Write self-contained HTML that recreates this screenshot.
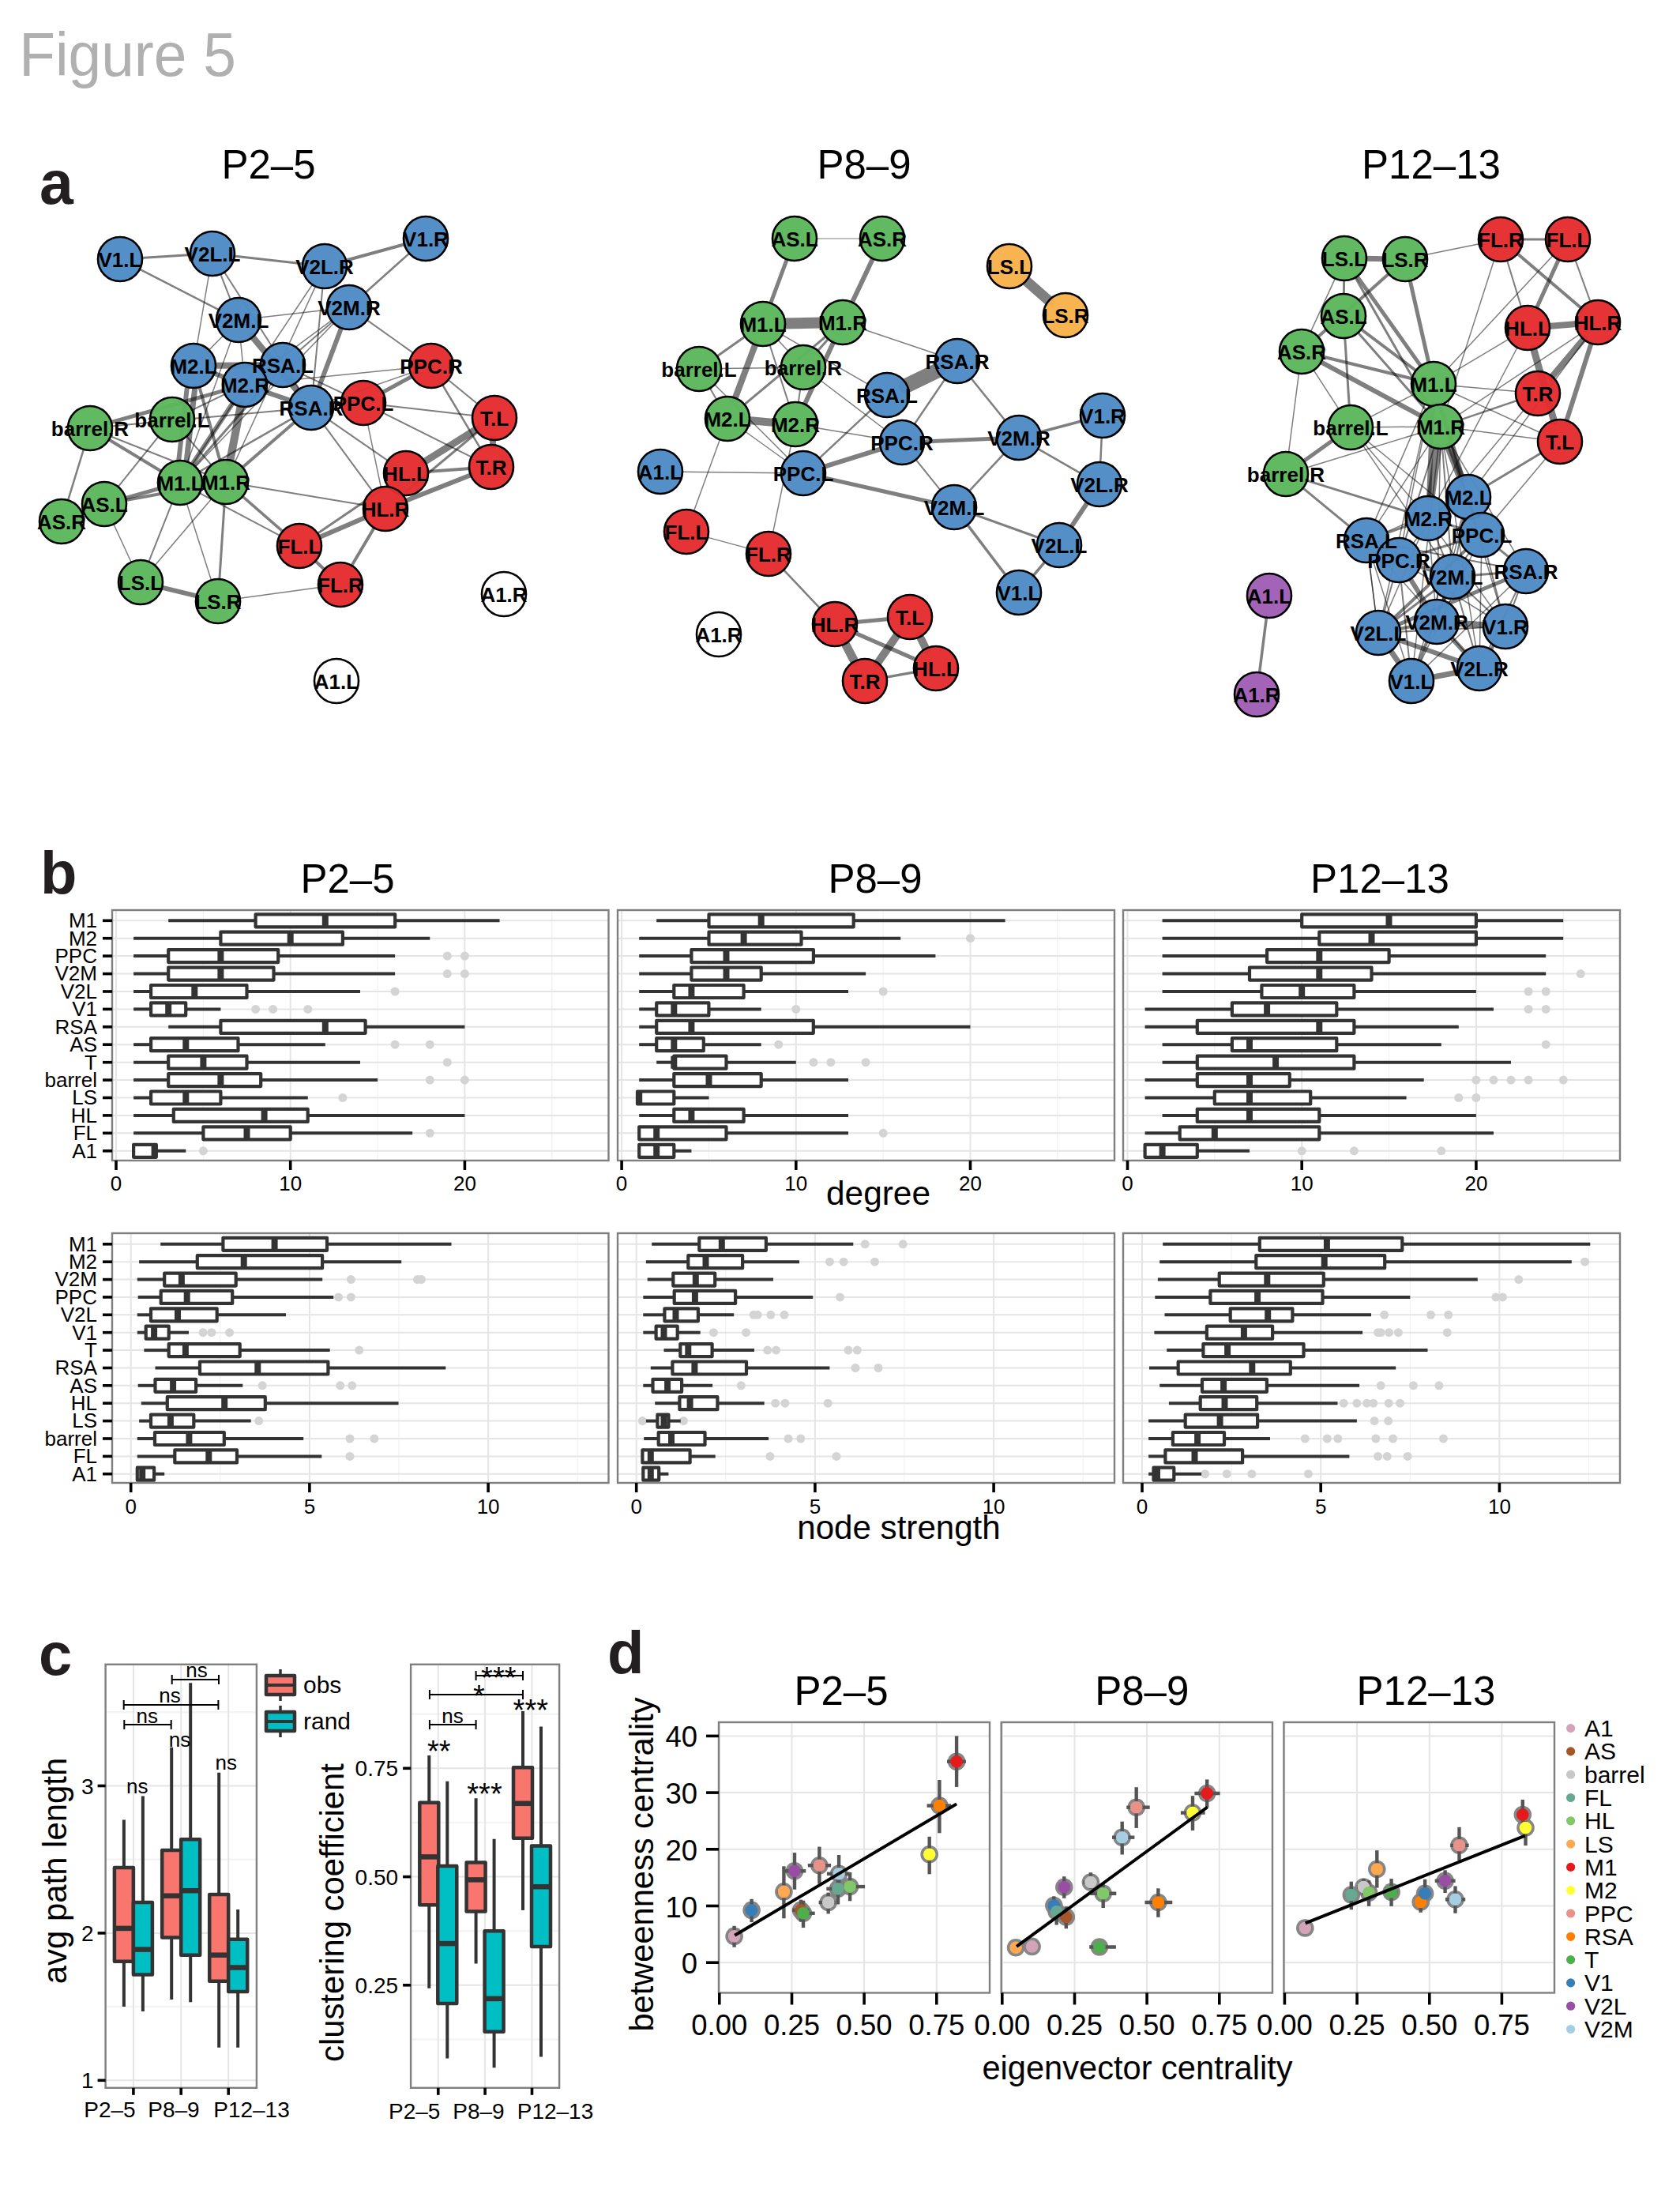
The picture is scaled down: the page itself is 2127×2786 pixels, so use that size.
<!DOCTYPE html>
<html><head><meta charset="utf-8"><style>
html,body{margin:0;padding:0;background:#fff;}
svg{display:block;font-family:"Liberation Sans",sans-serif;}
</style></head><body>
<svg width="2127" height="2786" viewBox="0 0 2127 2786">
<rect width="2127" height="2786" fill="#fff"/>
<text transform="translate(24.2 95.8) scale(0.966 1)" x="0" y="0" font-size="77.5" fill="#B0B0B0">Figure 5</text>
<text x="50" y="257.5" font-weight="bold" font-size="77" fill="#231F20">a</text>
<text x="340" y="226" text-anchor="middle" font-size="51" fill="#000">P2–5</text>
<text x="1094" y="226" text-anchor="middle" font-size="51" fill="#000">P8–9</text>
<text x="1812" y="226" text-anchor="middle" font-size="51" fill="#000">P12–13</text>
<line x1="178.5" y1="326.4" x2="242.5" y2="322.6" stroke="#000" stroke-opacity="0.5" stroke-width="3" stroke-linecap="round"/>
<line x1="175.6" y1="340.1" x2="278.4" y2="392.9" stroke="#000" stroke-opacity="0.5" stroke-width="2.5" stroke-linecap="round"/>
<line x1="295.3" y1="324.0" x2="384.7" y2="334.0" stroke="#000" stroke-opacity="0.5" stroke-width="3" stroke-linecap="round"/>
<line x1="436.6" y1="330.0" x2="513.4" y2="309.0" stroke="#000" stroke-opacity="0.5" stroke-width="4" stroke-linecap="round"/>
<line x1="519.3" y1="319.7" x2="461.7" y2="371.3" stroke="#000" stroke-opacity="0.5" stroke-width="2.5" stroke-linecap="round"/>
<line x1="264.6" y1="347.1" x2="249.4" y2="436.9" stroke="#000" stroke-opacity="0.5" stroke-width="1.5" stroke-linecap="round"/>
<line x1="278.7" y1="345.7" x2="292.3" y2="380.3" stroke="#000" stroke-opacity="0.5" stroke-width="2" stroke-linecap="round"/>
<line x1="283.3" y1="343.3" x2="379.7" y2="493.7" stroke="#000" stroke-opacity="0.5" stroke-width="2" stroke-linecap="round"/>
<line x1="328.3" y1="402.0" x2="415.7" y2="392.0" stroke="#000" stroke-opacity="0.5" stroke-width="1.5" stroke-linecap="round"/>
<line x1="463.6" y1="404.4" x2="524.4" y2="447.6" stroke="#000" stroke-opacity="0.5" stroke-width="2" stroke-linecap="round"/>
<line x1="432.6" y1="413.8" x2="403.4" y2="491.2" stroke="#000" stroke-opacity="0.5" stroke-width="6" stroke-linecap="round"/>
<line x1="422.0" y1="406.4" x2="378.0" y2="444.6" stroke="#000" stroke-opacity="0.5" stroke-width="2" stroke-linecap="round"/>
<line x1="420.7" y1="404.8" x2="331.3" y2="471.2" stroke="#000" stroke-opacity="0.5" stroke-width="1.5" stroke-linecap="round"/>
<line x1="283.4" y1="423.9" x2="263.6" y2="444.1" stroke="#000" stroke-opacity="0.5" stroke-width="1.5" stroke-linecap="round"/>
<line x1="318.9" y1="425.4" x2="377.1" y2="495.6" stroke="#000" stroke-opacity="0.5" stroke-width="8" stroke-linecap="round"/>
<line x1="304.6" y1="431.4" x2="307.4" y2="460.6" stroke="#000" stroke-opacity="0.5" stroke-width="1.5" stroke-linecap="round"/>
<line x1="293.0" y1="429.9" x2="237.0" y2="586.1" stroke="#000" stroke-opacity="0.5" stroke-width="1.5" stroke-linecap="round"/>
<line x1="396.3" y1="359.0" x2="242.7" y2="589.0" stroke="#000" stroke-opacity="0.5" stroke-width="1.5" stroke-linecap="round"/>
<line x1="400.0" y1="361.1" x2="297.0" y2="585.9" stroke="#000" stroke-opacity="0.5" stroke-width="1.5" stroke-linecap="round"/>
<line x1="408.5" y1="363.4" x2="396.5" y2="489.6" stroke="#000" stroke-opacity="0.5" stroke-width="2" stroke-linecap="round"/>
<line x1="271.5" y1="462.8" x2="331.5" y2="462.2" stroke="#000" stroke-opacity="0.5" stroke-width="8" stroke-linecap="round"/>
<line x1="269.9" y1="472.2" x2="285.1" y2="477.8" stroke="#000" stroke-opacity="0.5" stroke-width="6" stroke-linecap="round"/>
<line x1="246.9" y1="489.9" x2="236.0" y2="585.2" stroke="#000" stroke-opacity="0.5" stroke-width="7" stroke-linecap="round"/>
<line x1="237.0" y1="488.8" x2="226.1" y2="584.1" stroke="#000" stroke-opacity="0.5" stroke-width="6" stroke-linecap="round"/>
<line x1="295.4" y1="509.1" x2="242.6" y2="588.9" stroke="#000" stroke-opacity="0.5" stroke-width="6" stroke-linecap="round"/>
<line x1="304.9" y1="513.0" x2="291.1" y2="584.0" stroke="#000" stroke-opacity="0.5" stroke-width="10" stroke-linecap="round"/>
<line x1="335.0" y1="495.6" x2="369.0" y2="507.4" stroke="#000" stroke-opacity="0.5" stroke-width="6" stroke-linecap="round"/>
<line x1="252.1" y1="488.5" x2="278.9" y2="584.5" stroke="#000" stroke-opacity="0.5" stroke-width="4" stroke-linecap="round"/>
<line x1="382.0" y1="473.3" x2="436.0" y2="498.7" stroke="#000" stroke-opacity="0.5" stroke-width="2" stroke-linecap="round"/>
<line x1="336.4" y1="484.3" x2="519.6" y2="465.7" stroke="#000" stroke-opacity="0.5" stroke-width="1.5" stroke-linecap="round"/>
<line x1="419.0" y1="507.3" x2="521.0" y2="471.7" stroke="#000" stroke-opacity="0.5" stroke-width="1.5" stroke-linecap="round"/>
<line x1="483.3" y1="497.3" x2="522.7" y2="475.7" stroke="#000" stroke-opacity="0.5" stroke-width="5" stroke-linecap="round"/>
<line x1="566.4" y1="479.9" x2="605.6" y2="512.1" stroke="#000" stroke-opacity="0.5" stroke-width="2" stroke-linecap="round"/>
<line x1="559.5" y1="485.8" x2="608.5" y2="568.2" stroke="#000" stroke-opacity="0.5" stroke-width="2.5" stroke-linecap="round"/>
<line x1="486.3" y1="513.0" x2="599.7" y2="526.0" stroke="#000" stroke-opacity="0.5" stroke-width="2" stroke-linecap="round"/>
<line x1="483.7" y1="521.9" x2="598.3" y2="579.1" stroke="#000" stroke-opacity="0.5" stroke-width="2" stroke-linecap="round"/>
<line x1="465.4" y1="535.9" x2="482.6" y2="618.1" stroke="#000" stroke-opacity="0.5" stroke-width="1.5" stroke-linecap="round"/>
<line x1="603.5" y1="543.0" x2="536.5" y2="585.0" stroke="#000" stroke-opacity="0.5" stroke-width="9" stroke-linecap="round"/>
<line x1="624.3" y1="555.4" x2="623.7" y2="564.6" stroke="#000" stroke-opacity="0.5" stroke-width="8" stroke-linecap="round"/>
<line x1="605.6" y1="546.0" x2="508.4" y2="627.0" stroke="#000" stroke-opacity="0.5" stroke-width="3" stroke-linecap="round"/>
<line x1="595.6" y1="593.0" x2="540.4" y2="597.0" stroke="#000" stroke-opacity="0.5" stroke-width="4" stroke-linecap="round"/>
<line x1="597.4" y1="600.7" x2="512.6" y2="634.3" stroke="#000" stroke-opacity="0.5" stroke-width="6" stroke-linecap="round"/>
<line x1="500.7" y1="621.9" x2="501.3" y2="621.1" stroke="#000" stroke-opacity="0.5" stroke-width="3" stroke-linecap="round"/>
<line x1="463.7" y1="654.5" x2="403.3" y2="680.5" stroke="#000" stroke-opacity="0.5" stroke-width="6" stroke-linecap="round"/>
<line x1="492.1" y1="613.9" x2="400.9" y2="676.1" stroke="#000" stroke-opacity="0.5" stroke-width="3" stroke-linecap="round"/>
<line x1="474.5" y1="666.8" x2="444.5" y2="717.2" stroke="#000" stroke-opacity="0.5" stroke-width="4" stroke-linecap="round"/>
<line x1="398.3" y1="709.2" x2="411.7" y2="721.8" stroke="#000" stroke-opacity="0.5" stroke-width="4" stroke-linecap="round"/>
<line x1="306.0" y1="627.4" x2="359.0" y2="673.6" stroke="#000" stroke-opacity="0.5" stroke-width="3.5" stroke-linecap="round"/>
<line x1="251.4" y1="623.4" x2="355.6" y2="678.6" stroke="#000" stroke-opacity="0.5" stroke-width="2" stroke-linecap="round"/>
<line x1="312.1" y1="614.4" x2="461.9" y2="639.6" stroke="#000" stroke-opacity="0.5" stroke-width="2" stroke-linecap="round"/>
<line x1="415.8" y1="531.1" x2="492.2" y2="583.9" stroke="#000" stroke-opacity="0.5" stroke-width="2" stroke-linecap="round"/>
<line x1="409.7" y1="537.4" x2="472.3" y2="622.6" stroke="#000" stroke-opacity="0.5" stroke-width="2" stroke-linecap="round"/>
<line x1="203.7" y1="743.3" x2="250.3" y2="754.7" stroke="#000" stroke-opacity="0.5" stroke-width="6" stroke-linecap="round"/>
<line x1="302.3" y1="757.4" x2="404.7" y2="743.6" stroke="#000" stroke-opacity="0.5" stroke-width="1.5" stroke-linecap="round"/>
<line x1="277.8" y1="734.6" x2="284.2" y2="636.4" stroke="#000" stroke-opacity="0.5" stroke-width="3" stroke-linecap="round"/>
<line x1="267.9" y1="735.8" x2="236.1" y2="636.2" stroke="#000" stroke-opacity="0.5" stroke-width="1.5" stroke-linecap="round"/>
<line x1="187.8" y1="712.4" x2="218.2" y2="635.6" stroke="#000" stroke-opacity="0.5" stroke-width="2" stroke-linecap="round"/>
<line x1="195.2" y1="716.8" x2="268.8" y2="630.2" stroke="#000" stroke-opacity="0.5" stroke-width="1.5" stroke-linecap="round"/>
<line x1="166.8" y1="713.0" x2="143.2" y2="662.0" stroke="#000" stroke-opacity="0.5" stroke-width="1.5" stroke-linecap="round"/>
<line x1="157.5" y1="630.8" x2="202.5" y2="618.2" stroke="#000" stroke-opacity="0.5" stroke-width="5" stroke-linecap="round"/>
<line x1="158.1" y1="633.3" x2="259.9" y2="614.7" stroke="#000" stroke-opacity="0.5" stroke-width="4" stroke-linecap="round"/>
<line x1="85.7" y1="634.7" x2="106.3" y2="567.3" stroke="#000" stroke-opacity="0.5" stroke-width="2.5" stroke-linecap="round"/>
<line x1="148.6" y1="617.3" x2="201.4" y2="551.7" stroke="#000" stroke-opacity="0.5" stroke-width="2" stroke-linecap="round"/>
<line x1="136.7" y1="555.7" x2="205.3" y2="597.3" stroke="#000" stroke-opacity="0.5" stroke-width="4" stroke-linecap="round"/>
<line x1="138.6" y1="551.7" x2="261.4" y2="600.3" stroke="#000" stroke-opacity="0.5" stroke-width="2" stroke-linecap="round"/>
<line x1="140.4" y1="539.5" x2="367.6" y2="518.5" stroke="#000" stroke-opacity="0.5" stroke-width="2" stroke-linecap="round"/>
<line x1="139.5" y1="534.8" x2="284.5" y2="494.2" stroke="#000" stroke-opacity="0.5" stroke-width="5" stroke-linecap="round"/>
<line x1="241.9" y1="519.6" x2="286.1" y2="498.4" stroke="#000" stroke-opacity="0.5" stroke-width="2" stroke-linecap="round"/>
<line x1="235.3" y1="551.1" x2="268.7" y2="589.9" stroke="#000" stroke-opacity="0.5" stroke-width="2" stroke-linecap="round"/>
<line x1="251.0" y1="597.8" x2="371.0" y2="529.2" stroke="#000" stroke-opacity="0.5" stroke-width="2.5" stroke-linecap="round"/>
<line x1="306.0" y1="592.6" x2="374.0" y2="533.4" stroke="#000" stroke-opacity="0.5" stroke-width="4" stroke-linecap="round"/>
<line x1="245.4" y1="591.0" x2="340.6" y2="482.0" stroke="#000" stroke-opacity="0.5" stroke-width="3" stroke-linecap="round"/>
<line x1="246.4" y1="591.9" x2="423.6" y2="408.1" stroke="#000" stroke-opacity="0.5" stroke-width="1.5" stroke-linecap="round"/>
<line x1="107.5" y1="648.0" x2="102.5" y2="650.0" stroke="#000" stroke-opacity="0.5" stroke-width="2" stroke-linecap="round"/>
<circle cx="152" cy="328" r="28" fill="#4F8BC5" fill-opacity="0.97" stroke="#000" stroke-width="2.6"/>
<circle cx="269" cy="321" r="28" fill="#4F8BC5" fill-opacity="0.97" stroke="#000" stroke-width="2.6"/>
<circle cx="411" cy="337" r="28" fill="#4F8BC5" fill-opacity="0.97" stroke="#000" stroke-width="2.6"/>
<circle cx="539" cy="302" r="28" fill="#4F8BC5" fill-opacity="0.97" stroke="#000" stroke-width="2.6"/>
<circle cx="302" cy="405" r="28" fill="#4F8BC5" fill-opacity="0.97" stroke="#000" stroke-width="2.6"/>
<circle cx="442" cy="389" r="28" fill="#4F8BC5" fill-opacity="0.97" stroke="#000" stroke-width="2.6"/>
<circle cx="245" cy="463" r="28" fill="#4F8BC5" fill-opacity="0.97" stroke="#000" stroke-width="2.6"/>
<circle cx="358" cy="462" r="28" fill="#4F8BC5" fill-opacity="0.97" stroke="#000" stroke-width="2.6"/>
<circle cx="310" cy="487" r="28" fill="#4F8BC5" fill-opacity="0.97" stroke="#000" stroke-width="2.6"/>
<circle cx="394" cy="516" r="28" fill="#4F8BC5" fill-opacity="0.97" stroke="#000" stroke-width="2.6"/>
<circle cx="460" cy="510" r="28" fill="#E52D30" fill-opacity="0.97" stroke="#000" stroke-width="2.6"/>
<circle cx="546" cy="463" r="28" fill="#E52D30" fill-opacity="0.97" stroke="#000" stroke-width="2.6"/>
<circle cx="626" cy="529" r="28" fill="#E52D30" fill-opacity="0.97" stroke="#000" stroke-width="2.6"/>
<circle cx="622" cy="591" r="28" fill="#E52D30" fill-opacity="0.97" stroke="#000" stroke-width="2.6"/>
<circle cx="514" cy="599" r="28" fill="#E52D30" fill-opacity="0.97" stroke="#000" stroke-width="2.6"/>
<circle cx="488" cy="644" r="28" fill="#E52D30" fill-opacity="0.97" stroke="#000" stroke-width="2.6"/>
<circle cx="379" cy="691" r="28" fill="#E52D30" fill-opacity="0.97" stroke="#000" stroke-width="2.6"/>
<circle cx="431" cy="740" r="28" fill="#E52D30" fill-opacity="0.97" stroke="#000" stroke-width="2.6"/>
<circle cx="114" cy="542" r="28" fill="#5CB85C" fill-opacity="0.97" stroke="#000" stroke-width="2.6"/>
<circle cx="218" cy="531" r="28" fill="#5CB85C" fill-opacity="0.97" stroke="#000" stroke-width="2.6"/>
<circle cx="228" cy="611" r="28" fill="#5CB85C" fill-opacity="0.97" stroke="#000" stroke-width="2.6"/>
<circle cx="286" cy="610" r="28" fill="#5CB85C" fill-opacity="0.97" stroke="#000" stroke-width="2.6"/>
<circle cx="132" cy="638" r="28" fill="#5CB85C" fill-opacity="0.97" stroke="#000" stroke-width="2.6"/>
<circle cx="78" cy="660" r="28" fill="#5CB85C" fill-opacity="0.97" stroke="#000" stroke-width="2.6"/>
<circle cx="178" cy="737" r="28" fill="#5CB85C" fill-opacity="0.97" stroke="#000" stroke-width="2.6"/>
<circle cx="276" cy="761" r="28" fill="#5CB85C" fill-opacity="0.97" stroke="#000" stroke-width="2.6"/>
<circle cx="638" cy="752" r="28" fill="#FFFFFF" fill-opacity="0.97" stroke="#000" stroke-width="2.6"/>
<circle cx="426" cy="862" r="28" fill="#FFFFFF" fill-opacity="0.97" stroke="#000" stroke-width="2.6"/>
<text x="152" y="337.5" text-anchor="middle" font-weight="bold" font-size="26" fill="#000">V1.L</text>
<text x="269" y="330.5" text-anchor="middle" font-weight="bold" font-size="26" fill="#000">V2L.L</text>
<text x="411" y="346.5" text-anchor="middle" font-weight="bold" font-size="26" fill="#000">V2L.R</text>
<text x="539" y="311.5" text-anchor="middle" font-weight="bold" font-size="26" fill="#000">V1.R</text>
<text x="302" y="414.5" text-anchor="middle" font-weight="bold" font-size="26" fill="#000">V2M.L</text>
<text x="442" y="398.5" text-anchor="middle" font-weight="bold" font-size="26" fill="#000">V2M.R</text>
<text x="245" y="472.5" text-anchor="middle" font-weight="bold" font-size="26" fill="#000">M2.L</text>
<text x="358" y="471.5" text-anchor="middle" font-weight="bold" font-size="26" fill="#000">RSA.L</text>
<text x="310" y="496.5" text-anchor="middle" font-weight="bold" font-size="26" fill="#000">M2.R</text>
<text x="394" y="525.5" text-anchor="middle" font-weight="bold" font-size="26" fill="#000">RSA.R</text>
<text x="460" y="519.5" text-anchor="middle" font-weight="bold" font-size="26" fill="#000">PPC.L</text>
<text x="546" y="472.5" text-anchor="middle" font-weight="bold" font-size="26" fill="#000">PPC.R</text>
<text x="626" y="538.5" text-anchor="middle" font-weight="bold" font-size="26" fill="#000">T.L</text>
<text x="622" y="600.5" text-anchor="middle" font-weight="bold" font-size="26" fill="#000">T.R</text>
<text x="514" y="608.5" text-anchor="middle" font-weight="bold" font-size="26" fill="#000">HL.L</text>
<text x="488" y="653.5" text-anchor="middle" font-weight="bold" font-size="26" fill="#000">HL.R</text>
<text x="379" y="700.5" text-anchor="middle" font-weight="bold" font-size="26" fill="#000">FL.L</text>
<text x="431" y="749.5" text-anchor="middle" font-weight="bold" font-size="26" fill="#000">FL.R</text>
<text x="114" y="551.5" text-anchor="middle" font-weight="bold" font-size="26" fill="#000">barrel.R</text>
<text x="218" y="540.5" text-anchor="middle" font-weight="bold" font-size="26" fill="#000">barrel.L</text>
<text x="228" y="620.5" text-anchor="middle" font-weight="bold" font-size="26" fill="#000">M1.L</text>
<text x="286" y="619.5" text-anchor="middle" font-weight="bold" font-size="26" fill="#000">M1.R</text>
<text x="132" y="647.5" text-anchor="middle" font-weight="bold" font-size="26" fill="#000">AS.L</text>
<text x="78" y="669.5" text-anchor="middle" font-weight="bold" font-size="26" fill="#000">AS.R</text>
<text x="178" y="746.5" text-anchor="middle" font-weight="bold" font-size="26" fill="#000">LS.L</text>
<text x="276" y="770.5" text-anchor="middle" font-weight="bold" font-size="26" fill="#000">LS.R</text>
<text x="638" y="761.5" text-anchor="middle" font-weight="bold" font-size="26" fill="#000">A1.R</text>
<text x="426" y="871.5" text-anchor="middle" font-weight="bold" font-size="26" fill="#000">A1.L</text>
<line x1="1032.5" y1="302.0" x2="1090.5" y2="302.0" stroke="#000" stroke-opacity="0.5" stroke-width="1.2" stroke-linecap="round"/>
<line x1="996.8" y1="326.9" x2="975.2" y2="385.1" stroke="#000" stroke-opacity="0.5" stroke-width="5" stroke-linecap="round"/>
<line x1="1105.7" y1="326.0" x2="1078.3" y2="384.0" stroke="#000" stroke-opacity="0.5" stroke-width="6" stroke-linecap="round"/>
<line x1="1298.0" y1="354.4" x2="1329.0" y2="381.6" stroke="#000" stroke-opacity="0.5" stroke-width="13" stroke-linecap="round"/>
<line x1="992.5" y1="409.5" x2="1040.5" y2="408.5" stroke="#000" stroke-opacity="0.5" stroke-width="14" stroke-linecap="round"/>
<line x1="944.3" y1="425.3" x2="906.7" y2="451.7" stroke="#000" stroke-opacity="0.5" stroke-width="3" stroke-linecap="round"/>
<line x1="956.7" y1="434.8" x2="930.3" y2="505.2" stroke="#000" stroke-opacity="0.5" stroke-width="8" stroke-linecap="round"/>
<line x1="984.0" y1="429.4" x2="999.0" y2="445.6" stroke="#000" stroke-opacity="0.5" stroke-width="1.5" stroke-linecap="round"/>
<line x1="989.0" y1="423.2" x2="1100.0" y2="486.8" stroke="#000" stroke-opacity="0.5" stroke-width="1.5" stroke-linecap="round"/>
<line x1="1092.1" y1="416.5" x2="1186.9" y2="448.5" stroke="#000" stroke-opacity="0.5" stroke-width="1.5" stroke-linecap="round"/>
<line x1="1049.5" y1="427.9" x2="1034.5" y2="445.1" stroke="#000" stroke-opacity="0.5" stroke-width="3" stroke-linecap="round"/>
<line x1="1046.7" y1="425.0" x2="941.3" y2="513.0" stroke="#000" stroke-opacity="0.5" stroke-width="3" stroke-linecap="round"/>
<line x1="1055.8" y1="432.0" x2="1018.2" y2="513.0" stroke="#000" stroke-opacity="0.5" stroke-width="6" stroke-linecap="round"/>
<line x1="911.5" y1="466.6" x2="990.5" y2="465.4" stroke="#000" stroke-opacity="0.5" stroke-width="1.5" stroke-linecap="round"/>
<line x1="903.7" y1="485.7" x2="998.3" y2="580.3" stroke="#000" stroke-opacity="0.5" stroke-width="1.5" stroke-linecap="round"/>
<line x1="1013.4" y1="491.2" x2="1010.6" y2="510.8" stroke="#000" stroke-opacity="0.5" stroke-width="2" stroke-linecap="round"/>
<line x1="974.1" y1="435.2" x2="998.9" y2="511.8" stroke="#000" stroke-opacity="0.5" stroke-width="2" stroke-linecap="round"/>
<line x1="947.4" y1="532.1" x2="980.6" y2="534.9" stroke="#000" stroke-opacity="0.5" stroke-width="10" stroke-linecap="round"/>
<line x1="942.5" y1="545.5" x2="995.5" y2="583.5" stroke="#000" stroke-opacity="0.5" stroke-width="1.5" stroke-linecap="round"/>
<line x1="911.9" y1="554.9" x2="878.1" y2="648.1" stroke="#000" stroke-opacity="0.5" stroke-width="1.5" stroke-linecap="round"/>
<line x1="1033.1" y1="541.5" x2="1115.9" y2="555.5" stroke="#000" stroke-opacity="0.5" stroke-width="1.5" stroke-linecap="round"/>
<line x1="1001.6" y1="562.9" x2="978.4" y2="675.1" stroke="#000" stroke-opacity="0.5" stroke-width="1.5" stroke-linecap="round"/>
<line x1="1146.9" y1="488.5" x2="1188.1" y2="468.5" stroke="#000" stroke-opacity="0.5" stroke-width="19" stroke-linecap="round"/>
<line x1="1103.6" y1="518.1" x2="1036.4" y2="580.9" stroke="#000" stroke-opacity="0.5" stroke-width="2.5" stroke-linecap="round"/>
<line x1="1197.1" y1="478.9" x2="1156.9" y2="538.1" stroke="#000" stroke-opacity="0.5" stroke-width="2.5" stroke-linecap="round"/>
<line x1="1228.6" y1="477.7" x2="1273.4" y2="533.3" stroke="#000" stroke-opacity="0.5" stroke-width="2.5" stroke-linecap="round"/>
<line x1="1042.3" y1="591.1" x2="1116.7" y2="567.9" stroke="#000" stroke-opacity="0.5" stroke-width="6" stroke-linecap="round"/>
<line x1="1168.5" y1="558.9" x2="1263.5" y2="555.1" stroke="#000" stroke-opacity="0.5" stroke-width="5" stroke-linecap="round"/>
<line x1="1158.6" y1="580.6" x2="1191.4" y2="621.4" stroke="#000" stroke-opacity="0.5" stroke-width="2" stroke-linecap="round"/>
<line x1="1042.9" y1="604.8" x2="1182.1" y2="636.2" stroke="#000" stroke-opacity="0.5" stroke-width="5" stroke-linecap="round"/>
<line x1="990.5" y1="598.7" x2="862.5" y2="597.3" stroke="#000" stroke-opacity="0.5" stroke-width="1.5" stroke-linecap="round"/>
<line x1="1315.6" y1="547.2" x2="1370.4" y2="532.8" stroke="#000" stroke-opacity="0.5" stroke-width="3.5" stroke-linecap="round"/>
<line x1="1312.9" y1="567.3" x2="1369.1" y2="599.7" stroke="#000" stroke-opacity="0.5" stroke-width="2.5" stroke-linecap="round"/>
<line x1="1271.9" y1="573.4" x2="1226.1" y2="622.6" stroke="#000" stroke-opacity="0.5" stroke-width="2.5" stroke-linecap="round"/>
<line x1="1394.8" y1="552.5" x2="1393.2" y2="586.5" stroke="#000" stroke-opacity="0.5" stroke-width="2.5" stroke-linecap="round"/>
<line x1="1377.4" y1="635.1" x2="1355.6" y2="667.9" stroke="#000" stroke-opacity="0.5" stroke-width="6" stroke-linecap="round"/>
<line x1="1232.9" y1="651.0" x2="1316.1" y2="681.0" stroke="#000" stroke-opacity="0.5" stroke-width="3" stroke-linecap="round"/>
<line x1="1224.0" y1="663.1" x2="1274.0" y2="728.9" stroke="#000" stroke-opacity="0.5" stroke-width="3.5" stroke-linecap="round"/>
<line x1="1307.2" y1="729.8" x2="1323.8" y2="710.2" stroke="#000" stroke-opacity="0.5" stroke-width="3.5" stroke-linecap="round"/>
<line x1="894.6" y1="679.9" x2="947.4" y2="694.1" stroke="#000" stroke-opacity="0.5" stroke-width="1.5" stroke-linecap="round"/>
<line x1="991.2" y1="720.3" x2="1038.8" y2="770.7" stroke="#000" stroke-opacity="0.5" stroke-width="2.5" stroke-linecap="round"/>
<line x1="1083.4" y1="787.5" x2="1125.6" y2="783.5" stroke="#000" stroke-opacity="0.5" stroke-width="5" stroke-linecap="round"/>
<line x1="1069.4" y1="813.4" x2="1082.6" y2="838.6" stroke="#000" stroke-opacity="0.5" stroke-width="11" stroke-linecap="round"/>
<line x1="1081.3" y1="800.6" x2="1160.7" y2="835.4" stroke="#000" stroke-opacity="0.5" stroke-width="5" stroke-linecap="round"/>
<line x1="1136.7" y1="802.7" x2="1110.3" y2="840.3" stroke="#000" stroke-opacity="0.5" stroke-width="10" stroke-linecap="round"/>
<line x1="1164.0" y1="804.6" x2="1173.0" y2="822.4" stroke="#000" stroke-opacity="0.5" stroke-width="10" stroke-linecap="round"/>
<line x1="1121.1" y1="857.4" x2="1158.9" y2="850.6" stroke="#000" stroke-opacity="0.5" stroke-width="3.5" stroke-linecap="round"/>
<line x1="1038.1" y1="481.0" x2="1120.9" y2="544.0" stroke="#000" stroke-opacity="0.5" stroke-width="1.5" stroke-linecap="round"/>
<line x1="898.1" y1="490.0" x2="907.9" y2="507.0" stroke="#000" stroke-opacity="0.5" stroke-width="2" stroke-linecap="round"/>
<circle cx="1006" cy="302" r="28" fill="#5CB85C" fill-opacity="0.97" stroke="#000" stroke-width="2.6"/>
<circle cx="1117" cy="302" r="28" fill="#5CB85C" fill-opacity="0.97" stroke="#000" stroke-width="2.6"/>
<circle cx="1278" cy="337" r="28" fill="#F9B24C" fill-opacity="0.97" stroke="#000" stroke-width="2.6"/>
<circle cx="1349" cy="399" r="28" fill="#F9B24C" fill-opacity="0.97" stroke="#000" stroke-width="2.6"/>
<circle cx="966" cy="410" r="28" fill="#5CB85C" fill-opacity="0.97" stroke="#000" stroke-width="2.6"/>
<circle cx="1067" cy="408" r="28" fill="#5CB85C" fill-opacity="0.97" stroke="#000" stroke-width="2.6"/>
<circle cx="885" cy="467" r="28" fill="#5CB85C" fill-opacity="0.97" stroke="#000" stroke-width="2.6"/>
<circle cx="1017" cy="465" r="28" fill="#5CB85C" fill-opacity="0.97" stroke="#000" stroke-width="2.6"/>
<circle cx="1212" cy="457" r="28" fill="#4F8BC5" fill-opacity="0.97" stroke="#000" stroke-width="2.6"/>
<circle cx="1123" cy="500" r="28" fill="#4F8BC5" fill-opacity="0.97" stroke="#000" stroke-width="2.6"/>
<circle cx="921" cy="530" r="28" fill="#5CB85C" fill-opacity="0.97" stroke="#000" stroke-width="2.6"/>
<circle cx="1007" cy="537" r="28" fill="#5CB85C" fill-opacity="0.97" stroke="#000" stroke-width="2.6"/>
<circle cx="1142" cy="560" r="28" fill="#4F8BC5" fill-opacity="0.97" stroke="#000" stroke-width="2.6"/>
<circle cx="1290" cy="554" r="28" fill="#4F8BC5" fill-opacity="0.97" stroke="#000" stroke-width="2.6"/>
<circle cx="1396" cy="526" r="28" fill="#4F8BC5" fill-opacity="0.97" stroke="#000" stroke-width="2.6"/>
<circle cx="836" cy="597" r="28" fill="#4F8BC5" fill-opacity="0.97" stroke="#000" stroke-width="2.6"/>
<circle cx="1017" cy="599" r="28" fill="#4F8BC5" fill-opacity="0.97" stroke="#000" stroke-width="2.6"/>
<circle cx="1392" cy="613" r="28" fill="#4F8BC5" fill-opacity="0.97" stroke="#000" stroke-width="2.6"/>
<circle cx="1208" cy="642" r="28" fill="#4F8BC5" fill-opacity="0.97" stroke="#000" stroke-width="2.6"/>
<circle cx="869" cy="673" r="28" fill="#E52D30" fill-opacity="0.97" stroke="#000" stroke-width="2.6"/>
<circle cx="973" cy="701" r="28" fill="#E52D30" fill-opacity="0.97" stroke="#000" stroke-width="2.6"/>
<circle cx="1341" cy="690" r="28" fill="#4F8BC5" fill-opacity="0.97" stroke="#000" stroke-width="2.6"/>
<circle cx="1290" cy="750" r="28" fill="#4F8BC5" fill-opacity="0.97" stroke="#000" stroke-width="2.6"/>
<circle cx="910" cy="803" r="28" fill="#FFFFFF" fill-opacity="0.97" stroke="#000" stroke-width="2.6"/>
<circle cx="1057" cy="790" r="28" fill="#E52D30" fill-opacity="0.97" stroke="#000" stroke-width="2.6"/>
<circle cx="1152" cy="781" r="28" fill="#E52D30" fill-opacity="0.97" stroke="#000" stroke-width="2.6"/>
<circle cx="1095" cy="862" r="28" fill="#E52D30" fill-opacity="0.97" stroke="#000" stroke-width="2.6"/>
<circle cx="1185" cy="846" r="28" fill="#E52D30" fill-opacity="0.97" stroke="#000" stroke-width="2.6"/>
<text x="1006" y="311.5" text-anchor="middle" font-weight="bold" font-size="26" fill="#000">AS.L</text>
<text x="1117" y="311.5" text-anchor="middle" font-weight="bold" font-size="26" fill="#000">AS.R</text>
<text x="1278" y="346.5" text-anchor="middle" font-weight="bold" font-size="26" fill="#000">LS.L</text>
<text x="1349" y="408.5" text-anchor="middle" font-weight="bold" font-size="26" fill="#000">LS.R</text>
<text x="966" y="419.5" text-anchor="middle" font-weight="bold" font-size="26" fill="#000">M1.L</text>
<text x="1067" y="417.5" text-anchor="middle" font-weight="bold" font-size="26" fill="#000">M1.R</text>
<text x="885" y="476.5" text-anchor="middle" font-weight="bold" font-size="26" fill="#000">barrel.L</text>
<text x="1017" y="474.5" text-anchor="middle" font-weight="bold" font-size="26" fill="#000">barrel.R</text>
<text x="1212" y="466.5" text-anchor="middle" font-weight="bold" font-size="26" fill="#000">RSA.R</text>
<text x="1123" y="509.5" text-anchor="middle" font-weight="bold" font-size="26" fill="#000">RSA.L</text>
<text x="921" y="539.5" text-anchor="middle" font-weight="bold" font-size="26" fill="#000">M2.L</text>
<text x="1007" y="546.5" text-anchor="middle" font-weight="bold" font-size="26" fill="#000">M2.R</text>
<text x="1142" y="569.5" text-anchor="middle" font-weight="bold" font-size="26" fill="#000">PPC.R</text>
<text x="1290" y="563.5" text-anchor="middle" font-weight="bold" font-size="26" fill="#000">V2M.R</text>
<text x="1396" y="535.5" text-anchor="middle" font-weight="bold" font-size="26" fill="#000">V1.R</text>
<text x="836" y="606.5" text-anchor="middle" font-weight="bold" font-size="26" fill="#000">A1.L</text>
<text x="1017" y="608.5" text-anchor="middle" font-weight="bold" font-size="26" fill="#000">PPC.L</text>
<text x="1392" y="622.5" text-anchor="middle" font-weight="bold" font-size="26" fill="#000">V2L.R</text>
<text x="1208" y="651.5" text-anchor="middle" font-weight="bold" font-size="26" fill="#000">V2M.L</text>
<text x="869" y="682.5" text-anchor="middle" font-weight="bold" font-size="26" fill="#000">FL.L</text>
<text x="973" y="710.5" text-anchor="middle" font-weight="bold" font-size="26" fill="#000">FL.R</text>
<text x="1341" y="699.5" text-anchor="middle" font-weight="bold" font-size="26" fill="#000">V2L.L</text>
<text x="1290" y="759.5" text-anchor="middle" font-weight="bold" font-size="26" fill="#000">V1.L</text>
<text x="910" y="812.5" text-anchor="middle" font-weight="bold" font-size="26" fill="#000">A1.R</text>
<text x="1057" y="799.5" text-anchor="middle" font-weight="bold" font-size="26" fill="#000">HL.R</text>
<text x="1152" y="790.5" text-anchor="middle" font-weight="bold" font-size="26" fill="#000">T.L</text>
<text x="1095" y="871.5" text-anchor="middle" font-weight="bold" font-size="26" fill="#000">T.R</text>
<text x="1185" y="855.5" text-anchor="middle" font-weight="bold" font-size="26" fill="#000">HL.L</text>
<line x1="1728.5" y1="327.3" x2="1752.5" y2="327.7" stroke="#000" stroke-opacity="0.5" stroke-width="7" stroke-linecap="round"/>
<line x1="1805.0" y1="322.6" x2="1874.0" y2="308.4" stroke="#000" stroke-opacity="0.5" stroke-width="1.5" stroke-linecap="round"/>
<line x1="1926.5" y1="303.0" x2="1958.5" y2="303.0" stroke="#000" stroke-opacity="0.5" stroke-width="3" stroke-linecap="round"/>
<line x1="1907.7" y1="328.4" x2="1926.3" y2="389.6" stroke="#000" stroke-opacity="0.5" stroke-width="2" stroke-linecap="round"/>
<line x1="1920.2" y1="320.2" x2="2002.8" y2="390.8" stroke="#000" stroke-opacity="0.5" stroke-width="4" stroke-linecap="round"/>
<line x1="1891.9" y1="328.2" x2="1832.1" y2="514.8" stroke="#000" stroke-opacity="0.5" stroke-width="1.5" stroke-linecap="round"/>
<line x1="1974.0" y1="327.1" x2="1945.0" y2="390.9" stroke="#000" stroke-opacity="0.5" stroke-width="5" stroke-linecap="round"/>
<line x1="1994.0" y1="327.9" x2="2014.0" y2="383.1" stroke="#000" stroke-opacity="0.5" stroke-width="2" stroke-linecap="round"/>
<line x1="1967.0" y1="322.4" x2="1833.0" y2="466.6" stroke="#000" stroke-opacity="0.5" stroke-width="1.5" stroke-linecap="round"/>
<line x1="1960.4" y1="412.9" x2="1996.6" y2="410.1" stroke="#000" stroke-opacity="0.5" stroke-width="8" stroke-linecap="round"/>
<line x1="1941.3" y1="440.5" x2="1967.7" y2="533.5" stroke="#000" stroke-opacity="0.5" stroke-width="9" stroke-linecap="round"/>
<line x1="2005.9" y1="428.2" x2="1964.1" y2="477.8" stroke="#000" stroke-opacity="0.5" stroke-width="8" stroke-linecap="round"/>
<line x1="2015.0" y1="433.3" x2="1983.0" y2="533.7" stroke="#000" stroke-opacity="0.5" stroke-width="6" stroke-linecap="round"/>
<line x1="1911.2" y1="428.6" x2="1837.8" y2="472.4" stroke="#000" stroke-opacity="0.5" stroke-width="1.5" stroke-linecap="round"/>
<line x1="2000.9" y1="422.6" x2="1846.1" y2="525.4" stroke="#000" stroke-opacity="0.5" stroke-width="1.5" stroke-linecap="round"/>
<line x1="1920.6" y1="495.6" x2="1841.4" y2="488.4" stroke="#000" stroke-opacity="0.5" stroke-width="1.5" stroke-linecap="round"/>
<line x1="1921.9" y1="506.6" x2="1849.1" y2="531.4" stroke="#000" stroke-opacity="0.5" stroke-width="2.5" stroke-linecap="round"/>
<line x1="1948.7" y1="555.7" x2="1850.3" y2="543.3" stroke="#000" stroke-opacity="0.5" stroke-width="1.5" stroke-linecap="round"/>
<line x1="1950.9" y1="548.0" x2="1839.1" y2="497.0" stroke="#000" stroke-opacity="0.5" stroke-width="1.5" stroke-linecap="round"/>
<line x1="1952.3" y1="572.7" x2="1881.7" y2="615.3" stroke="#000" stroke-opacity="0.5" stroke-width="3" stroke-linecap="round"/>
<line x1="1958.0" y1="579.3" x2="1893.0" y2="656.7" stroke="#000" stroke-opacity="0.5" stroke-width="1.5" stroke-linecap="round"/>
<line x1="1921.7" y1="438.5" x2="1820.3" y2="632.5" stroke="#000" stroke-opacity="0.5" stroke-width="1.5" stroke-linecap="round"/>
<line x1="2007.2" y1="429.3" x2="1874.8" y2="607.7" stroke="#000" stroke-opacity="0.5" stroke-width="1.5" stroke-linecap="round"/>
<line x1="1930.0" y1="518.3" x2="1788.0" y2="688.7" stroke="#000" stroke-opacity="0.5" stroke-width="1.5" stroke-linecap="round"/>
<line x1="1701.6" y1="353.5" x2="1701.4" y2="373.5" stroke="#000" stroke-opacity="0.5" stroke-width="3" stroke-linecap="round"/>
<line x1="1691.0" y1="351.1" x2="1659.0" y2="420.9" stroke="#000" stroke-opacity="0.5" stroke-width="1.5" stroke-linecap="round"/>
<line x1="1717.4" y1="348.6" x2="1799.6" y2="464.4" stroke="#000" stroke-opacity="0.5" stroke-width="5" stroke-linecap="round"/>
<line x1="1715.2" y1="350.0" x2="1810.8" y2="517.0" stroke="#000" stroke-opacity="0.5" stroke-width="3" stroke-linecap="round"/>
<line x1="1759.2" y1="345.7" x2="1667.8" y2="427.3" stroke="#000" stroke-opacity="0.5" stroke-width="4" stroke-linecap="round"/>
<line x1="1784.9" y1="353.8" x2="1809.1" y2="460.2" stroke="#000" stroke-opacity="0.5" stroke-width="5" stroke-linecap="round"/>
<line x1="1722.2" y1="416.0" x2="1793.8" y2="470.0" stroke="#000" stroke-opacity="0.5" stroke-width="4" stroke-linecap="round"/>
<line x1="1718.5" y1="419.9" x2="1806.5" y2="520.1" stroke="#000" stroke-opacity="0.5" stroke-width="3" stroke-linecap="round"/>
<line x1="1702.7" y1="426.4" x2="1708.3" y2="514.6" stroke="#000" stroke-opacity="0.5" stroke-width="3" stroke-linecap="round"/>
<line x1="1673.7" y1="451.3" x2="1789.3" y2="479.7" stroke="#000" stroke-opacity="0.5" stroke-width="4" stroke-linecap="round"/>
<line x1="1671.3" y1="457.6" x2="1800.7" y2="527.4" stroke="#000" stroke-opacity="0.5" stroke-width="6" stroke-linecap="round"/>
<line x1="1662.4" y1="467.3" x2="1695.6" y2="518.7" stroke="#000" stroke-opacity="0.5" stroke-width="1.5" stroke-linecap="round"/>
<line x1="1644.6" y1="471.3" x2="1631.4" y2="573.7" stroke="#000" stroke-opacity="0.5" stroke-width="1.5" stroke-linecap="round"/>
<line x1="1736.5" y1="540.8" x2="1797.5" y2="540.2" stroke="#000" stroke-opacity="0.5" stroke-width="1.5" stroke-linecap="round"/>
<line x1="1733.5" y1="528.7" x2="1791.5" y2="498.3" stroke="#000" stroke-opacity="0.5" stroke-width="1.5" stroke-linecap="round"/>
<line x1="1688.5" y1="556.5" x2="1649.5" y2="584.5" stroke="#000" stroke-opacity="0.5" stroke-width="5" stroke-linecap="round"/>
<line x1="1653.3" y1="592.2" x2="1798.7" y2="547.8" stroke="#000" stroke-opacity="0.5" stroke-width="1.5" stroke-linecap="round"/>
<line x1="1727.2" y1="561.2" x2="1790.8" y2="635.8" stroke="#000" stroke-opacity="0.5" stroke-width="1.5" stroke-linecap="round"/>
<line x1="1730.5" y1="557.8" x2="1855.5" y2="660.2" stroke="#000" stroke-opacity="0.5" stroke-width="1.5" stroke-linecap="round"/>
<line x1="1724.9" y1="562.9" x2="1824.1" y2="708.1" stroke="#000" stroke-opacity="0.5" stroke-width="1.5" stroke-linecap="round"/>
<line x1="1648.5" y1="616.8" x2="1709.5" y2="667.2" stroke="#000" stroke-opacity="0.5" stroke-width="3" stroke-linecap="round"/>
<line x1="1653.3" y1="607.9" x2="1782.7" y2="648.1" stroke="#000" stroke-opacity="0.5" stroke-width="3" stroke-linecap="round"/>
<line x1="1819.4" y1="512.1" x2="1819.6" y2="513.9" stroke="#000" stroke-opacity="0.5" stroke-width="4" stroke-linecap="round"/>
<line x1="1833.7" y1="564.7" x2="1849.3" y2="604.3" stroke="#000" stroke-opacity="0.5" stroke-width="10" stroke-linecap="round"/>
<line x1="1820.4" y1="566.3" x2="1811.6" y2="629.7" stroke="#000" stroke-opacity="0.5" stroke-width="10" stroke-linecap="round"/>
<line x1="1822.8" y1="511.3" x2="1851.2" y2="603.7" stroke="#000" stroke-opacity="0.5" stroke-width="6" stroke-linecap="round"/>
<line x1="1813.9" y1="512.5" x2="1809.1" y2="629.5" stroke="#000" stroke-opacity="0.5" stroke-width="6" stroke-linecap="round"/>
<line x1="1833.4" y1="564.8" x2="1866.6" y2="652.2" stroke="#000" stroke-opacity="0.5" stroke-width="3" stroke-linecap="round"/>
<line x1="1816.1" y1="565.3" x2="1778.9" y2="683.7" stroke="#000" stroke-opacity="0.5" stroke-width="2" stroke-linecap="round"/>
<line x1="1826.1" y1="566.4" x2="1836.9" y2="703.6" stroke="#000" stroke-opacity="0.5" stroke-width="2" stroke-linecap="round"/>
<line x1="1809.5" y1="562.2" x2="1744.5" y2="661.8" stroke="#000" stroke-opacity="0.5" stroke-width="1.5" stroke-linecap="round"/>
<line x1="1823.5" y1="566.5" x2="1819.5" y2="760.5" stroke="#000" stroke-opacity="0.5" stroke-width="1.5" stroke-linecap="round"/>
<line x1="1804.5" y1="510.4" x2="1740.5" y2="659.6" stroke="#000" stroke-opacity="0.5" stroke-width="1.5" stroke-linecap="round"/>
<line x1="1809.9" y1="512.0" x2="1776.1" y2="683.0" stroke="#000" stroke-opacity="0.5" stroke-width="1.5" stroke-linecap="round"/>
<line x1="1837.5" y1="562.8" x2="1918.5" y2="700.2" stroke="#000" stroke-opacity="0.5" stroke-width="1.5" stroke-linecap="round"/>
<line x1="1809.3" y1="511.9" x2="1750.7" y2="775.1" stroke="#000" stroke-opacity="0.5" stroke-width="1.5" stroke-linecap="round"/>
<line x1="1821.0" y1="566.3" x2="1790.0" y2="835.7" stroke="#000" stroke-opacity="0.5" stroke-width="1.5" stroke-linecap="round"/>
<line x1="1822.5" y1="511.4" x2="1898.5" y2="767.6" stroke="#000" stroke-opacity="0.5" stroke-width="1.5" stroke-linecap="round"/>
<line x1="1828.2" y1="566.2" x2="1868.8" y2="819.8" stroke="#000" stroke-opacity="0.5" stroke-width="1.5" stroke-linecap="round"/>
<line x1="1603.6" y1="780.3" x2="1594.4" y2="852.7" stroke="#000" stroke-opacity="0.5" stroke-width="3.5" stroke-linecap="round"/>
<line x1="1813.1" y1="857.2" x2="1846.9" y2="850.8" stroke="#000" stroke-opacity="0.5" stroke-width="7" stroke-linecap="round"/>
<line x1="1772.0" y1="840.2" x2="1760.0" y2="822.8" stroke="#000" stroke-opacity="0.5" stroke-width="7" stroke-linecap="round"/>
<line x1="1771.0" y1="796.1" x2="1793.0" y2="791.9" stroke="#000" stroke-opacity="0.5" stroke-width="4" stroke-linecap="round"/>
<line x1="1845.4" y1="788.8" x2="1879.6" y2="791.2" stroke="#000" stroke-opacity="0.5" stroke-width="8" stroke-linecap="round"/>
<line x1="1887.0" y1="823.5" x2="1892.0" y2="815.5" stroke="#000" stroke-opacity="0.5" stroke-width="4" stroke-linecap="round"/>
<line x1="1770.0" y1="809.8" x2="1848.0" y2="837.2" stroke="#000" stroke-opacity="0.5" stroke-width="6" stroke-linecap="round"/>
<line x1="1836.9" y1="806.5" x2="1855.1" y2="826.5" stroke="#000" stroke-opacity="0.5" stroke-width="6" stroke-linecap="round"/>
<line x1="1830.2" y1="755.0" x2="1827.8" y2="762.0" stroke="#000" stroke-opacity="0.5" stroke-width="4" stroke-linecap="round"/>
<line x1="1796.3" y1="716.8" x2="1813.7" y2="722.2" stroke="#000" stroke-opacity="0.5" stroke-width="5" stroke-linecap="round"/>
<line x1="1754.9" y1="675.0" x2="1783.1" y2="665.0" stroke="#000" stroke-opacity="0.5" stroke-width="3" stroke-linecap="round"/>
<line x1="1752.6" y1="697.8" x2="1748.4" y2="695.2" stroke="#000" stroke-opacity="0.5" stroke-width="3" stroke-linecap="round"/>
<line x1="1833.3" y1="663.8" x2="1850.7" y2="669.2" stroke="#000" stroke-opacity="0.5" stroke-width="3" stroke-linecap="round"/>
<line x1="1867.8" y1="654.0" x2="1867.2" y2="652.0" stroke="#000" stroke-opacity="0.5" stroke-width="3" stroke-linecap="round"/>
<line x1="1896.5" y1="693.8" x2="1911.5" y2="706.2" stroke="#000" stroke-opacity="0.5" stroke-width="3" stroke-linecap="round"/>
<line x1="1865.4" y1="728.0" x2="1905.6" y2="725.0" stroke="#000" stroke-opacity="0.5" stroke-width="3" stroke-linecap="round"/>
<line x1="1784.9" y1="731.6" x2="1805.1" y2="764.4" stroke="#000" stroke-opacity="0.5" stroke-width="6" stroke-linecap="round"/>
<line x1="1907.5" y1="733.2" x2="1769.5" y2="790.8" stroke="#000" stroke-opacity="0.5" stroke-width="5" stroke-linecap="round"/>
<line x1="1829.3" y1="754.7" x2="1796.7" y2="837.3" stroke="#000" stroke-opacity="0.5" stroke-width="4" stroke-linecap="round"/>
<line x1="1764.2" y1="782.8" x2="1856.8" y2="695.2" stroke="#000" stroke-opacity="0.5" stroke-width="4" stroke-linecap="round"/>
<line x1="1817.9" y1="746.0" x2="1766.1" y2="785.0" stroke="#000" stroke-opacity="0.5" stroke-width="3" stroke-linecap="round"/>
<line x1="1771.5" y1="799.7" x2="1879.5" y2="794.3" stroke="#000" stroke-opacity="0.5" stroke-width="2" stroke-linecap="round"/>
<line x1="1733.4" y1="710.3" x2="1741.6" y2="774.7" stroke="#000" stroke-opacity="0.5" stroke-width="1.5" stroke-linecap="round"/>
<line x1="1773.8" y1="735.4" x2="1784.2" y2="835.6" stroke="#000" stroke-opacity="0.5" stroke-width="2" stroke-linecap="round"/>
<line x1="1882.6" y1="702.7" x2="1899.4" y2="767.3" stroke="#000" stroke-opacity="0.5" stroke-width="2" stroke-linecap="round"/>
<line x1="1922.8" y1="747.8" x2="1915.2" y2="768.2" stroke="#000" stroke-opacity="0.5" stroke-width="2" stroke-linecap="round"/>
<line x1="1920.5" y1="746.9" x2="1884.5" y2="822.1" stroke="#000" stroke-opacity="0.5" stroke-width="2" stroke-linecap="round"/>
<line x1="1853.9" y1="655.0" x2="1844.1" y2="704.0" stroke="#000" stroke-opacity="0.5" stroke-width="2" stroke-linecap="round"/>
<line x1="1818.2" y1="680.4" x2="1828.8" y2="705.6" stroke="#000" stroke-opacity="0.5" stroke-width="2" stroke-linecap="round"/>
<line x1="1860.8" y1="698.7" x2="1854.2" y2="708.3" stroke="#000" stroke-opacity="0.5" stroke-width="2" stroke-linecap="round"/>
<line x1="1763.8" y1="734.5" x2="1752.2" y2="775.5" stroke="#000" stroke-opacity="0.5" stroke-width="2" stroke-linecap="round"/>
<line x1="1754.4" y1="694.3" x2="1814.6" y2="719.7" stroke="#000" stroke-opacity="0.5" stroke-width="2" stroke-linecap="round"/>
<line x1="1797.4" y1="680.3" x2="1755.6" y2="776.7" stroke="#000" stroke-opacity="0.5" stroke-width="1.5" stroke-linecap="round"/>
<line x1="1852.5" y1="654.7" x2="1825.5" y2="761.3" stroke="#000" stroke-opacity="0.5" stroke-width="1.5" stroke-linecap="round"/>
<line x1="1875.5" y1="703.5" x2="1873.5" y2="819.5" stroke="#000" stroke-opacity="0.5" stroke-width="1.5" stroke-linecap="round"/>
<line x1="1846.5" y1="755.4" x2="1865.5" y2="820.6" stroke="#000" stroke-opacity="0.5" stroke-width="2" stroke-linecap="round"/>
<line x1="1738.1" y1="709.2" x2="1778.9" y2="836.8" stroke="#000" stroke-opacity="0.5" stroke-width="1.5" stroke-linecap="round"/>
<line x1="1823.4" y1="677.6" x2="1890.6" y2="771.4" stroke="#000" stroke-opacity="0.5" stroke-width="1.5" stroke-linecap="round"/>
<line x1="1864.5" y1="700.9" x2="1798.5" y2="838.1" stroke="#000" stroke-opacity="0.5" stroke-width="1.5" stroke-linecap="round"/>
<line x1="1756.0" y1="689.0" x2="1906.0" y2="718.0" stroke="#000" stroke-opacity="0.5" stroke-width="2" stroke-linecap="round"/>
<line x1="1835.6" y1="641.4" x2="1831.4" y2="643.6" stroke="#000" stroke-opacity="0.5" stroke-width="3" stroke-linecap="round"/>
<line x1="1850.7" y1="684.7" x2="1796.3" y2="701.3" stroke="#000" stroke-opacity="0.5" stroke-width="3" stroke-linecap="round"/>
<line x1="1810.2" y1="682.4" x2="1816.8" y2="760.6" stroke="#000" stroke-opacity="0.5" stroke-width="1.5" stroke-linecap="round"/>
<line x1="1851.2" y1="654.3" x2="1794.8" y2="836.7" stroke="#000" stroke-opacity="0.5" stroke-width="1.5" stroke-linecap="round"/>
<line x1="1912.9" y1="741.3" x2="1806.1" y2="843.7" stroke="#000" stroke-opacity="0.5" stroke-width="1.5" stroke-linecap="round"/>
<line x1="1793.5" y1="723.0" x2="1883.5" y2="779.0" stroke="#000" stroke-opacity="0.5" stroke-width="1.5" stroke-linecap="round"/>
<line x1="1747.5" y1="703.9" x2="1855.5" y2="826.1" stroke="#000" stroke-opacity="0.5" stroke-width="1.5" stroke-linecap="round"/>
<line x1="1858.3" y1="748.2" x2="1886.7" y2="774.8" stroke="#000" stroke-opacity="0.5" stroke-width="2" stroke-linecap="round"/>
<line x1="1741.6" y1="774.7" x2="1733.4" y2="710.3" stroke="#000" stroke-opacity="0.5" stroke-width="1.5" stroke-linecap="round"/>
<line x1="1834.6" y1="639.4" x2="1754.4" y2="673.6" stroke="#000" stroke-opacity="0.5" stroke-width="1.5" stroke-linecap="round"/>
<circle cx="1900" cy="303" r="28" fill="#E52D30" fill-opacity="0.97" stroke="#000" stroke-width="2.6"/>
<circle cx="1985" cy="303" r="28" fill="#E52D30" fill-opacity="0.97" stroke="#000" stroke-width="2.6"/>
<circle cx="1702" cy="327" r="28" fill="#5CB85C" fill-opacity="0.97" stroke="#000" stroke-width="2.6"/>
<circle cx="1779" cy="328" r="28" fill="#5CB85C" fill-opacity="0.97" stroke="#000" stroke-width="2.6"/>
<circle cx="1701" cy="400" r="28" fill="#5CB85C" fill-opacity="0.97" stroke="#000" stroke-width="2.6"/>
<circle cx="1934" cy="415" r="28" fill="#E52D30" fill-opacity="0.97" stroke="#000" stroke-width="2.6"/>
<circle cx="2023" cy="408" r="28" fill="#E52D30" fill-opacity="0.97" stroke="#000" stroke-width="2.6"/>
<circle cx="1648" cy="445" r="28" fill="#5CB85C" fill-opacity="0.97" stroke="#000" stroke-width="2.6"/>
<circle cx="1815" cy="486" r="28" fill="#5CB85C" fill-opacity="0.97" stroke="#000" stroke-width="2.6"/>
<circle cx="1947" cy="498" r="28" fill="#E52D30" fill-opacity="0.97" stroke="#000" stroke-width="2.6"/>
<circle cx="1710" cy="541" r="28" fill="#5CB85C" fill-opacity="0.97" stroke="#000" stroke-width="2.6"/>
<circle cx="1824" cy="540" r="28" fill="#5CB85C" fill-opacity="0.97" stroke="#000" stroke-width="2.6"/>
<circle cx="1975" cy="559" r="28" fill="#E52D30" fill-opacity="0.97" stroke="#000" stroke-width="2.6"/>
<circle cx="1628" cy="600" r="28" fill="#5CB85C" fill-opacity="0.97" stroke="#000" stroke-width="2.6"/>
<circle cx="1859" cy="629" r="28" fill="#4F8BC5" fill-opacity="0.97" stroke="#000" stroke-width="2.6"/>
<circle cx="1808" cy="656" r="28" fill="#4F8BC5" fill-opacity="0.97" stroke="#000" stroke-width="2.6"/>
<circle cx="1730" cy="684" r="28" fill="#4F8BC5" fill-opacity="0.97" stroke="#000" stroke-width="2.6"/>
<circle cx="1876" cy="677" r="28" fill="#4F8BC5" fill-opacity="0.97" stroke="#000" stroke-width="2.6"/>
<circle cx="1771" cy="709" r="28" fill="#4F8BC5" fill-opacity="0.97" stroke="#000" stroke-width="2.6"/>
<circle cx="1839" cy="730" r="28" fill="#4F8BC5" fill-opacity="0.97" stroke="#000" stroke-width="2.6"/>
<circle cx="1932" cy="723" r="28" fill="#4F8BC5" fill-opacity="0.97" stroke="#000" stroke-width="2.6"/>
<circle cx="1607" cy="754" r="28" fill="#A05EB5" fill-opacity="0.97" stroke="#000" stroke-width="2.6"/>
<circle cx="1819" cy="787" r="28" fill="#4F8BC5" fill-opacity="0.97" stroke="#000" stroke-width="2.6"/>
<circle cx="1906" cy="793" r="28" fill="#4F8BC5" fill-opacity="0.97" stroke="#000" stroke-width="2.6"/>
<circle cx="1745" cy="801" r="28" fill="#4F8BC5" fill-opacity="0.97" stroke="#000" stroke-width="2.6"/>
<circle cx="1873" cy="846" r="28" fill="#4F8BC5" fill-opacity="0.97" stroke="#000" stroke-width="2.6"/>
<circle cx="1787" cy="862" r="28" fill="#4F8BC5" fill-opacity="0.97" stroke="#000" stroke-width="2.6"/>
<circle cx="1591" cy="879" r="28" fill="#A05EB5" fill-opacity="0.97" stroke="#000" stroke-width="2.6"/>
<text x="1900" y="312.5" text-anchor="middle" font-weight="bold" font-size="26" fill="#000">FL.R</text>
<text x="1985" y="312.5" text-anchor="middle" font-weight="bold" font-size="26" fill="#000">FL.L</text>
<text x="1702" y="336.5" text-anchor="middle" font-weight="bold" font-size="26" fill="#000">LS.L</text>
<text x="1779" y="337.5" text-anchor="middle" font-weight="bold" font-size="26" fill="#000">LS.R</text>
<text x="1701" y="409.5" text-anchor="middle" font-weight="bold" font-size="26" fill="#000">AS.L</text>
<text x="1934" y="424.5" text-anchor="middle" font-weight="bold" font-size="26" fill="#000">HL.L</text>
<text x="2023" y="417.5" text-anchor="middle" font-weight="bold" font-size="26" fill="#000">HL.R</text>
<text x="1648" y="454.5" text-anchor="middle" font-weight="bold" font-size="26" fill="#000">AS.R</text>
<text x="1815" y="495.5" text-anchor="middle" font-weight="bold" font-size="26" fill="#000">M1.L</text>
<text x="1947" y="507.5" text-anchor="middle" font-weight="bold" font-size="26" fill="#000">T.R</text>
<text x="1710" y="550.5" text-anchor="middle" font-weight="bold" font-size="26" fill="#000">barrel.L</text>
<text x="1824" y="549.5" text-anchor="middle" font-weight="bold" font-size="26" fill="#000">M1.R</text>
<text x="1975" y="568.5" text-anchor="middle" font-weight="bold" font-size="26" fill="#000">T.L</text>
<text x="1628" y="609.5" text-anchor="middle" font-weight="bold" font-size="26" fill="#000">barrel.R</text>
<text x="1859" y="638.5" text-anchor="middle" font-weight="bold" font-size="26" fill="#000">M2.L</text>
<text x="1808" y="665.5" text-anchor="middle" font-weight="bold" font-size="26" fill="#000">M2.R</text>
<text x="1730" y="693.5" text-anchor="middle" font-weight="bold" font-size="26" fill="#000">RSA.L</text>
<text x="1876" y="686.5" text-anchor="middle" font-weight="bold" font-size="26" fill="#000">PPC.L</text>
<text x="1771" y="718.5" text-anchor="middle" font-weight="bold" font-size="26" fill="#000">PPC.R</text>
<text x="1839" y="739.5" text-anchor="middle" font-weight="bold" font-size="26" fill="#000">V2M.L</text>
<text x="1932" y="732.5" text-anchor="middle" font-weight="bold" font-size="26" fill="#000">RSA.R</text>
<text x="1607" y="763.5" text-anchor="middle" font-weight="bold" font-size="26" fill="#000">A1.L</text>
<text x="1819" y="796.5" text-anchor="middle" font-weight="bold" font-size="26" fill="#000">V2M.R</text>
<text x="1906" y="802.5" text-anchor="middle" font-weight="bold" font-size="26" fill="#000">V1.R</text>
<text x="1745" y="810.5" text-anchor="middle" font-weight="bold" font-size="26" fill="#000">V2L.L</text>
<text x="1873" y="855.5" text-anchor="middle" font-weight="bold" font-size="26" fill="#000">V2L.R</text>
<text x="1787" y="871.5" text-anchor="middle" font-weight="bold" font-size="26" fill="#000">V1.L</text>
<text x="1591" y="888.5" text-anchor="middle" font-weight="bold" font-size="26" fill="#000">A1.R</text>
<text x="51" y="1131" font-weight="bold" font-size="76" fill="#231F20">b</text>
<text x="440" y="1130" text-anchor="middle" font-size="51" fill="#000">P2–5</text>
<text x="1108" y="1130" text-anchor="middle" font-size="51" fill="#000">P8–9</text>
<text x="1747" y="1130" text-anchor="middle" font-size="51" fill="#000">P12–13</text>
<line x1="257.4" y1="1152" x2="257.4" y2="1469" stroke="#F2F2F2" stroke-width="1.2"/>
<line x1="478.1" y1="1152" x2="478.1" y2="1469" stroke="#F2F2F2" stroke-width="1.2"/>
<line x1="698.8" y1="1152" x2="698.8" y2="1469" stroke="#F2F2F2" stroke-width="1.2"/>
<line x1="147.0" y1="1152" x2="147.0" y2="1469" stroke="#E5E5E5" stroke-width="2"/>
<line x1="367.7" y1="1152" x2="367.7" y2="1469" stroke="#E5E5E5" stroke-width="2"/>
<line x1="588.4" y1="1152" x2="588.4" y2="1469" stroke="#E5E5E5" stroke-width="2"/>
<line x1="142" y1="1165.3" x2="770.5" y2="1165.3" stroke="#E5E5E5" stroke-width="2"/>
<line x1="142" y1="1187.7" x2="770.5" y2="1187.7" stroke="#E5E5E5" stroke-width="2"/>
<line x1="142" y1="1210.1" x2="770.5" y2="1210.1" stroke="#E5E5E5" stroke-width="2"/>
<line x1="142" y1="1232.6" x2="770.5" y2="1232.6" stroke="#E5E5E5" stroke-width="2"/>
<line x1="142" y1="1255.0" x2="770.5" y2="1255.0" stroke="#E5E5E5" stroke-width="2"/>
<line x1="142" y1="1277.4" x2="770.5" y2="1277.4" stroke="#E5E5E5" stroke-width="2"/>
<line x1="142" y1="1299.8" x2="770.5" y2="1299.8" stroke="#E5E5E5" stroke-width="2"/>
<line x1="142" y1="1322.2" x2="770.5" y2="1322.2" stroke="#E5E5E5" stroke-width="2"/>
<line x1="142" y1="1344.7" x2="770.5" y2="1344.7" stroke="#E5E5E5" stroke-width="2"/>
<line x1="142" y1="1367.1" x2="770.5" y2="1367.1" stroke="#E5E5E5" stroke-width="2"/>
<line x1="142" y1="1389.5" x2="770.5" y2="1389.5" stroke="#E5E5E5" stroke-width="2"/>
<line x1="142" y1="1411.9" x2="770.5" y2="1411.9" stroke="#E5E5E5" stroke-width="2"/>
<line x1="142" y1="1434.3" x2="770.5" y2="1434.3" stroke="#E5E5E5" stroke-width="2"/>
<line x1="142" y1="1456.8" x2="770.5" y2="1456.8" stroke="#E5E5E5" stroke-width="2"/>
<line x1="213.2" y1="1165.3" x2="323.6" y2="1165.3" stroke="#333" stroke-width="4"/>
<line x1="500.1" y1="1165.3" x2="632.5" y2="1165.3" stroke="#333" stroke-width="4"/>
<rect x="323.6" y="1157.3" width="176.6" height="16" fill="#fff" stroke="#333" stroke-width="4.2" stroke-linejoin="round"/>
<line x1="411.8" y1="1157.3" x2="411.8" y2="1173.3" stroke="#333" stroke-width="8"/>
<line x1="169.1" y1="1187.7" x2="279.4" y2="1187.7" stroke="#333" stroke-width="4"/>
<line x1="433.9" y1="1187.7" x2="544.3" y2="1187.7" stroke="#333" stroke-width="4"/>
<rect x="279.4" y="1179.7" width="154.5" height="16" fill="#fff" stroke="#333" stroke-width="4.2" stroke-linejoin="round"/>
<line x1="367.7" y1="1179.7" x2="367.7" y2="1195.7" stroke="#333" stroke-width="8"/>
<circle cx="566.3" cy="1210.1" r="5.5" fill="#D4D4D4"/>
<circle cx="588.4" cy="1210.1" r="5.5" fill="#D4D4D4"/>
<line x1="169.1" y1="1210.1" x2="213.2" y2="1210.1" stroke="#333" stroke-width="4"/>
<line x1="352.3" y1="1210.1" x2="500.1" y2="1210.1" stroke="#333" stroke-width="4"/>
<rect x="213.2" y="1202.1" width="139.0" height="16" fill="#fff" stroke="#333" stroke-width="4.2" stroke-linejoin="round"/>
<line x1="279.4" y1="1202.1" x2="279.4" y2="1218.1" stroke="#333" stroke-width="8"/>
<circle cx="566.3" cy="1232.6" r="5.5" fill="#D4D4D4"/>
<circle cx="588.4" cy="1232.6" r="5.5" fill="#D4D4D4"/>
<line x1="169.1" y1="1232.6" x2="213.2" y2="1232.6" stroke="#333" stroke-width="4"/>
<line x1="346.5" y1="1232.6" x2="500.1" y2="1232.6" stroke="#333" stroke-width="4"/>
<rect x="213.2" y="1224.6" width="133.3" height="16" fill="#fff" stroke="#333" stroke-width="4.2" stroke-linejoin="round"/>
<line x1="279.4" y1="1224.6" x2="279.4" y2="1240.6" stroke="#333" stroke-width="8"/>
<circle cx="500.1" cy="1255.0" r="5.5" fill="#D4D4D4"/>
<line x1="169.1" y1="1255.0" x2="191.1" y2="1255.0" stroke="#333" stroke-width="4"/>
<line x1="312.5" y1="1255.0" x2="456.0" y2="1255.0" stroke="#333" stroke-width="4"/>
<rect x="191.1" y="1247.0" width="121.4" height="16" fill="#fff" stroke="#333" stroke-width="4.2" stroke-linejoin="round"/>
<line x1="246.3" y1="1247.0" x2="246.3" y2="1263.0" stroke="#333" stroke-width="8"/>
<circle cx="323.6" cy="1277.4" r="5.5" fill="#D4D4D4"/>
<circle cx="345.6" cy="1277.4" r="5.5" fill="#D4D4D4"/>
<circle cx="389.8" cy="1277.4" r="5.5" fill="#D4D4D4"/>
<line x1="169.1" y1="1277.4" x2="191.1" y2="1277.4" stroke="#333" stroke-width="4"/>
<line x1="235.3" y1="1277.4" x2="279.4" y2="1277.4" stroke="#333" stroke-width="4"/>
<rect x="191.1" y="1269.4" width="44.1" height="16" fill="#fff" stroke="#333" stroke-width="4.2" stroke-linejoin="round"/>
<line x1="213.2" y1="1269.4" x2="213.2" y2="1285.4" stroke="#333" stroke-width="8"/>
<line x1="213.2" y1="1299.8" x2="279.4" y2="1299.8" stroke="#333" stroke-width="4"/>
<line x1="462.6" y1="1299.8" x2="588.4" y2="1299.8" stroke="#333" stroke-width="4"/>
<rect x="279.4" y="1291.8" width="183.2" height="16" fill="#fff" stroke="#333" stroke-width="4.2" stroke-linejoin="round"/>
<line x1="411.8" y1="1291.8" x2="411.8" y2="1307.8" stroke="#333" stroke-width="8"/>
<circle cx="500.1" cy="1322.2" r="5.5" fill="#D4D4D4"/>
<circle cx="544.3" cy="1322.2" r="5.5" fill="#D4D4D4"/>
<line x1="169.1" y1="1322.2" x2="191.1" y2="1322.2" stroke="#333" stroke-width="4"/>
<line x1="301.5" y1="1322.2" x2="411.8" y2="1322.2" stroke="#333" stroke-width="4"/>
<rect x="191.1" y="1314.2" width="110.4" height="16" fill="#fff" stroke="#333" stroke-width="4.2" stroke-linejoin="round"/>
<line x1="235.3" y1="1314.2" x2="235.3" y2="1330.2" stroke="#333" stroke-width="8"/>
<circle cx="566.3" cy="1344.7" r="5.5" fill="#D4D4D4"/>
<line x1="169.1" y1="1344.7" x2="213.2" y2="1344.7" stroke="#333" stroke-width="4"/>
<line x1="312.5" y1="1344.7" x2="456.0" y2="1344.7" stroke="#333" stroke-width="4"/>
<rect x="213.2" y="1336.7" width="99.3" height="16" fill="#fff" stroke="#333" stroke-width="4.2" stroke-linejoin="round"/>
<line x1="257.4" y1="1336.7" x2="257.4" y2="1352.7" stroke="#333" stroke-width="8"/>
<circle cx="544.3" cy="1367.1" r="5.5" fill="#D4D4D4"/>
<circle cx="588.4" cy="1367.1" r="5.5" fill="#D4D4D4"/>
<line x1="169.1" y1="1367.1" x2="213.2" y2="1367.1" stroke="#333" stroke-width="4"/>
<line x1="330.2" y1="1367.1" x2="478.1" y2="1367.1" stroke="#333" stroke-width="4"/>
<rect x="213.2" y="1359.1" width="117.0" height="16" fill="#fff" stroke="#333" stroke-width="4.2" stroke-linejoin="round"/>
<line x1="279.4" y1="1359.1" x2="279.4" y2="1375.1" stroke="#333" stroke-width="8"/>
<circle cx="433.9" cy="1389.5" r="5.5" fill="#D4D4D4"/>
<line x1="169.1" y1="1389.5" x2="191.1" y2="1389.5" stroke="#333" stroke-width="4"/>
<line x1="279.4" y1="1389.5" x2="389.8" y2="1389.5" stroke="#333" stroke-width="4"/>
<rect x="191.1" y="1381.5" width="88.3" height="16" fill="#fff" stroke="#333" stroke-width="4.2" stroke-linejoin="round"/>
<line x1="235.3" y1="1381.5" x2="235.3" y2="1397.5" stroke="#333" stroke-width="8"/>
<line x1="169.1" y1="1411.9" x2="219.8" y2="1411.9" stroke="#333" stroke-width="4"/>
<line x1="389.8" y1="1411.9" x2="588.4" y2="1411.9" stroke="#333" stroke-width="4"/>
<rect x="219.8" y="1403.9" width="169.9" height="16" fill="#fff" stroke="#333" stroke-width="4.2" stroke-linejoin="round"/>
<line x1="334.6" y1="1403.9" x2="334.6" y2="1419.9" stroke="#333" stroke-width="8"/>
<circle cx="544.3" cy="1434.3" r="5.5" fill="#D4D4D4"/>
<line x1="169.1" y1="1434.3" x2="257.4" y2="1434.3" stroke="#333" stroke-width="4"/>
<line x1="367.7" y1="1434.3" x2="522.2" y2="1434.3" stroke="#333" stroke-width="4"/>
<rect x="257.4" y="1426.3" width="110.3" height="16" fill="#fff" stroke="#333" stroke-width="4.2" stroke-linejoin="round"/>
<line x1="312.5" y1="1426.3" x2="312.5" y2="1442.3" stroke="#333" stroke-width="8"/>
<circle cx="257.4" cy="1456.8" r="5.5" fill="#D4D4D4"/>
<line x1="169.1" y1="1456.8" x2="169.1" y2="1456.8" stroke="#333" stroke-width="4"/>
<line x1="197.8" y1="1456.8" x2="235.3" y2="1456.8" stroke="#333" stroke-width="4"/>
<rect x="169.1" y="1448.8" width="28.7" height="16" fill="#fff" stroke="#333" stroke-width="4.2" stroke-linejoin="round"/>
<line x1="195.6" y1="1448.8" x2="195.6" y2="1464.8" stroke="#333" stroke-width="8"/>
<rect x="142" y="1152" width="628.5" height="317" fill="none" stroke="#7F7F7F" stroke-width="2.4"/>
<line x1="147.0" y1="1469" x2="147.0" y2="1481" stroke="#000" stroke-width="3.6"/>
<text x="147.0" y="1507.0" text-anchor="middle" font-size="26" fill="#000">0</text>
<line x1="367.7" y1="1469" x2="367.7" y2="1481" stroke="#000" stroke-width="3.6"/>
<text x="367.7" y="1507.0" text-anchor="middle" font-size="26" fill="#000">10</text>
<line x1="588.4" y1="1469" x2="588.4" y2="1481" stroke="#000" stroke-width="3.6"/>
<text x="588.4" y="1507.0" text-anchor="middle" font-size="26" fill="#000">20</text>
<line x1="130" y1="1165.3" x2="142" y2="1165.3" stroke="#000" stroke-width="3.6"/>
<text x="123" y="1174.1" text-anchor="end" font-size="26" fill="#000">M1</text>
<line x1="130" y1="1187.7" x2="142" y2="1187.7" stroke="#000" stroke-width="3.6"/>
<text x="123" y="1196.5" text-anchor="end" font-size="26" fill="#000">M2</text>
<line x1="130" y1="1210.1" x2="142" y2="1210.1" stroke="#000" stroke-width="3.6"/>
<text x="123" y="1218.9" text-anchor="end" font-size="26" fill="#000">PPC</text>
<line x1="130" y1="1232.6" x2="142" y2="1232.6" stroke="#000" stroke-width="3.6"/>
<text x="123" y="1241.4" text-anchor="end" font-size="26" fill="#000">V2M</text>
<line x1="130" y1="1255.0" x2="142" y2="1255.0" stroke="#000" stroke-width="3.6"/>
<text x="123" y="1263.8" text-anchor="end" font-size="26" fill="#000">V2L</text>
<line x1="130" y1="1277.4" x2="142" y2="1277.4" stroke="#000" stroke-width="3.6"/>
<text x="123" y="1286.2" text-anchor="end" font-size="26" fill="#000">V1</text>
<line x1="130" y1="1299.8" x2="142" y2="1299.8" stroke="#000" stroke-width="3.6"/>
<text x="123" y="1308.6" text-anchor="end" font-size="26" fill="#000">RSA</text>
<line x1="130" y1="1322.2" x2="142" y2="1322.2" stroke="#000" stroke-width="3.6"/>
<text x="123" y="1331.0" text-anchor="end" font-size="26" fill="#000">AS</text>
<line x1="130" y1="1344.7" x2="142" y2="1344.7" stroke="#000" stroke-width="3.6"/>
<text x="123" y="1353.5" text-anchor="end" font-size="26" fill="#000">T</text>
<line x1="130" y1="1367.1" x2="142" y2="1367.1" stroke="#000" stroke-width="3.6"/>
<text x="123" y="1375.9" text-anchor="end" font-size="26" fill="#000">barrel</text>
<line x1="130" y1="1389.5" x2="142" y2="1389.5" stroke="#000" stroke-width="3.6"/>
<text x="123" y="1398.3" text-anchor="end" font-size="26" fill="#000">LS</text>
<line x1="130" y1="1411.9" x2="142" y2="1411.9" stroke="#000" stroke-width="3.6"/>
<text x="123" y="1420.7" text-anchor="end" font-size="26" fill="#000">HL</text>
<line x1="130" y1="1434.3" x2="142" y2="1434.3" stroke="#000" stroke-width="3.6"/>
<text x="123" y="1443.1" text-anchor="end" font-size="26" fill="#000">FL</text>
<line x1="130" y1="1456.8" x2="142" y2="1456.8" stroke="#000" stroke-width="3.6"/>
<text x="123" y="1465.6" text-anchor="end" font-size="26" fill="#000">A1</text>
<line x1="897.5" y1="1152" x2="897.5" y2="1469" stroke="#F2F2F2" stroke-width="1.2"/>
<line x1="1118.2" y1="1152" x2="1118.2" y2="1469" stroke="#F2F2F2" stroke-width="1.2"/>
<line x1="1338.8" y1="1152" x2="1338.8" y2="1469" stroke="#F2F2F2" stroke-width="1.2"/>
<line x1="787.1" y1="1152" x2="787.1" y2="1469" stroke="#E5E5E5" stroke-width="2"/>
<line x1="1007.8" y1="1152" x2="1007.8" y2="1469" stroke="#E5E5E5" stroke-width="2"/>
<line x1="1228.5" y1="1152" x2="1228.5" y2="1469" stroke="#E5E5E5" stroke-width="2"/>
<line x1="782" y1="1165.3" x2="1411" y2="1165.3" stroke="#E5E5E5" stroke-width="2"/>
<line x1="782" y1="1187.7" x2="1411" y2="1187.7" stroke="#E5E5E5" stroke-width="2"/>
<line x1="782" y1="1210.1" x2="1411" y2="1210.1" stroke="#E5E5E5" stroke-width="2"/>
<line x1="782" y1="1232.6" x2="1411" y2="1232.6" stroke="#E5E5E5" stroke-width="2"/>
<line x1="782" y1="1255.0" x2="1411" y2="1255.0" stroke="#E5E5E5" stroke-width="2"/>
<line x1="782" y1="1277.4" x2="1411" y2="1277.4" stroke="#E5E5E5" stroke-width="2"/>
<line x1="782" y1="1299.8" x2="1411" y2="1299.8" stroke="#E5E5E5" stroke-width="2"/>
<line x1="782" y1="1322.2" x2="1411" y2="1322.2" stroke="#E5E5E5" stroke-width="2"/>
<line x1="782" y1="1344.7" x2="1411" y2="1344.7" stroke="#E5E5E5" stroke-width="2"/>
<line x1="782" y1="1367.1" x2="1411" y2="1367.1" stroke="#E5E5E5" stroke-width="2"/>
<line x1="782" y1="1389.5" x2="1411" y2="1389.5" stroke="#E5E5E5" stroke-width="2"/>
<line x1="782" y1="1411.9" x2="1411" y2="1411.9" stroke="#E5E5E5" stroke-width="2"/>
<line x1="782" y1="1434.3" x2="1411" y2="1434.3" stroke="#E5E5E5" stroke-width="2"/>
<line x1="782" y1="1456.8" x2="1411" y2="1456.8" stroke="#E5E5E5" stroke-width="2"/>
<line x1="831.2" y1="1165.3" x2="897.5" y2="1165.3" stroke="#333" stroke-width="4"/>
<line x1="1080.6" y1="1165.3" x2="1272.6" y2="1165.3" stroke="#333" stroke-width="4"/>
<rect x="897.5" y="1157.3" width="183.2" height="16" fill="#fff" stroke="#333" stroke-width="4.2" stroke-linejoin="round"/>
<line x1="963.7" y1="1157.3" x2="963.7" y2="1173.3" stroke="#333" stroke-width="8"/>
<circle cx="1228.5" cy="1187.7" r="5.5" fill="#D4D4D4"/>
<line x1="809.2" y1="1187.7" x2="897.5" y2="1187.7" stroke="#333" stroke-width="4"/>
<line x1="1014.4" y1="1187.7" x2="1140.2" y2="1187.7" stroke="#333" stroke-width="4"/>
<rect x="897.5" y="1179.7" width="117.0" height="16" fill="#fff" stroke="#333" stroke-width="4.2" stroke-linejoin="round"/>
<line x1="941.6" y1="1179.7" x2="941.6" y2="1195.7" stroke="#333" stroke-width="8"/>
<line x1="809.2" y1="1210.1" x2="875.4" y2="1210.1" stroke="#333" stroke-width="4"/>
<line x1="1029.9" y1="1210.1" x2="1184.4" y2="1210.1" stroke="#333" stroke-width="4"/>
<rect x="875.4" y="1202.1" width="154.5" height="16" fill="#fff" stroke="#333" stroke-width="4.2" stroke-linejoin="round"/>
<line x1="919.5" y1="1202.1" x2="919.5" y2="1218.1" stroke="#333" stroke-width="8"/>
<line x1="809.2" y1="1232.6" x2="875.4" y2="1232.6" stroke="#333" stroke-width="4"/>
<line x1="963.7" y1="1232.6" x2="1096.1" y2="1232.6" stroke="#333" stroke-width="4"/>
<rect x="875.4" y="1224.6" width="88.3" height="16" fill="#fff" stroke="#333" stroke-width="4.2" stroke-linejoin="round"/>
<line x1="919.5" y1="1224.6" x2="919.5" y2="1240.6" stroke="#333" stroke-width="8"/>
<circle cx="1118.2" cy="1255.0" r="5.5" fill="#D4D4D4"/>
<line x1="809.2" y1="1255.0" x2="853.3" y2="1255.0" stroke="#333" stroke-width="4"/>
<line x1="941.6" y1="1255.0" x2="1074.0" y2="1255.0" stroke="#333" stroke-width="4"/>
<rect x="853.3" y="1247.0" width="88.3" height="16" fill="#fff" stroke="#333" stroke-width="4.2" stroke-linejoin="round"/>
<line x1="875.4" y1="1247.0" x2="875.4" y2="1263.0" stroke="#333" stroke-width="8"/>
<circle cx="1007.8" cy="1277.4" r="5.5" fill="#D4D4D4"/>
<line x1="809.2" y1="1277.4" x2="831.2" y2="1277.4" stroke="#333" stroke-width="4"/>
<line x1="897.5" y1="1277.4" x2="963.7" y2="1277.4" stroke="#333" stroke-width="4"/>
<rect x="831.2" y="1269.4" width="66.2" height="16" fill="#fff" stroke="#333" stroke-width="4.2" stroke-linejoin="round"/>
<line x1="853.3" y1="1269.4" x2="853.3" y2="1285.4" stroke="#333" stroke-width="8"/>
<line x1="809.2" y1="1299.8" x2="831.2" y2="1299.8" stroke="#333" stroke-width="4"/>
<line x1="1029.9" y1="1299.8" x2="1228.5" y2="1299.8" stroke="#333" stroke-width="4"/>
<rect x="831.2" y="1291.8" width="198.6" height="16" fill="#fff" stroke="#333" stroke-width="4.2" stroke-linejoin="round"/>
<line x1="875.4" y1="1291.8" x2="875.4" y2="1307.8" stroke="#333" stroke-width="8"/>
<circle cx="985.7" cy="1322.2" r="5.5" fill="#D4D4D4"/>
<line x1="809.2" y1="1322.2" x2="831.2" y2="1322.2" stroke="#333" stroke-width="4"/>
<line x1="890.8" y1="1322.2" x2="963.7" y2="1322.2" stroke="#333" stroke-width="4"/>
<rect x="831.2" y="1314.2" width="59.6" height="16" fill="#fff" stroke="#333" stroke-width="4.2" stroke-linejoin="round"/>
<line x1="853.3" y1="1314.2" x2="853.3" y2="1330.2" stroke="#333" stroke-width="8"/>
<circle cx="1029.9" cy="1344.7" r="5.5" fill="#D4D4D4"/>
<circle cx="1051.9" cy="1344.7" r="5.5" fill="#D4D4D4"/>
<circle cx="1096.1" cy="1344.7" r="5.5" fill="#D4D4D4"/>
<line x1="831.2" y1="1344.7" x2="853.3" y2="1344.7" stroke="#333" stroke-width="4"/>
<line x1="919.5" y1="1344.7" x2="1007.8" y2="1344.7" stroke="#333" stroke-width="4"/>
<rect x="853.3" y="1336.7" width="66.2" height="16" fill="#fff" stroke="#333" stroke-width="4.2" stroke-linejoin="round"/>
<line x1="853.3" y1="1336.7" x2="853.3" y2="1352.7" stroke="#333" stroke-width="8"/>
<line x1="809.2" y1="1367.1" x2="853.3" y2="1367.1" stroke="#333" stroke-width="4"/>
<line x1="963.7" y1="1367.1" x2="1074.0" y2="1367.1" stroke="#333" stroke-width="4"/>
<rect x="853.3" y="1359.1" width="110.4" height="16" fill="#fff" stroke="#333" stroke-width="4.2" stroke-linejoin="round"/>
<line x1="897.5" y1="1359.1" x2="897.5" y2="1375.1" stroke="#333" stroke-width="8"/>
<line x1="809.2" y1="1389.5" x2="807.0" y2="1389.5" stroke="#333" stroke-width="4"/>
<line x1="853.3" y1="1389.5" x2="897.5" y2="1389.5" stroke="#333" stroke-width="4"/>
<rect x="807.0" y="1381.5" width="46.3" height="16" fill="#fff" stroke="#333" stroke-width="4.2" stroke-linejoin="round"/>
<line x1="809.2" y1="1381.5" x2="809.2" y2="1397.5" stroke="#333" stroke-width="8"/>
<line x1="809.2" y1="1411.9" x2="853.3" y2="1411.9" stroke="#333" stroke-width="4"/>
<line x1="941.6" y1="1411.9" x2="1074.0" y2="1411.9" stroke="#333" stroke-width="4"/>
<rect x="853.3" y="1403.9" width="88.3" height="16" fill="#fff" stroke="#333" stroke-width="4.2" stroke-linejoin="round"/>
<line x1="875.4" y1="1403.9" x2="875.4" y2="1419.9" stroke="#333" stroke-width="8"/>
<circle cx="1118.2" cy="1434.3" r="5.5" fill="#D4D4D4"/>
<line x1="809.2" y1="1434.3" x2="809.2" y2="1434.3" stroke="#333" stroke-width="4"/>
<line x1="919.5" y1="1434.3" x2="1074.0" y2="1434.3" stroke="#333" stroke-width="4"/>
<rect x="809.2" y="1426.3" width="110.3" height="16" fill="#fff" stroke="#333" stroke-width="4.2" stroke-linejoin="round"/>
<line x1="831.2" y1="1426.3" x2="831.2" y2="1442.3" stroke="#333" stroke-width="8"/>
<line x1="809.2" y1="1456.8" x2="809.2" y2="1456.8" stroke="#333" stroke-width="4"/>
<line x1="853.3" y1="1456.8" x2="875.4" y2="1456.8" stroke="#333" stroke-width="4"/>
<rect x="809.2" y="1448.8" width="44.1" height="16" fill="#fff" stroke="#333" stroke-width="4.2" stroke-linejoin="round"/>
<line x1="831.2" y1="1448.8" x2="831.2" y2="1464.8" stroke="#333" stroke-width="8"/>
<rect x="782" y="1152" width="629" height="317" fill="none" stroke="#7F7F7F" stroke-width="2.4"/>
<line x1="787.1" y1="1469" x2="787.1" y2="1481" stroke="#000" stroke-width="3.6"/>
<text x="787.1" y="1507.0" text-anchor="middle" font-size="26" fill="#000">0</text>
<line x1="1007.8" y1="1469" x2="1007.8" y2="1481" stroke="#000" stroke-width="3.6"/>
<text x="1007.8" y="1507.0" text-anchor="middle" font-size="26" fill="#000">10</text>
<line x1="1228.5" y1="1469" x2="1228.5" y2="1481" stroke="#000" stroke-width="3.6"/>
<text x="1228.5" y="1507.0" text-anchor="middle" font-size="26" fill="#000">20</text>
<line x1="1537.8" y1="1152" x2="1537.8" y2="1469" stroke="#F2F2F2" stroke-width="1.2"/>
<line x1="1758.5" y1="1152" x2="1758.5" y2="1469" stroke="#F2F2F2" stroke-width="1.2"/>
<line x1="1979.2" y1="1152" x2="1979.2" y2="1469" stroke="#F2F2F2" stroke-width="1.2"/>
<line x1="1427.5" y1="1152" x2="1427.5" y2="1469" stroke="#E5E5E5" stroke-width="2"/>
<line x1="1648.2" y1="1152" x2="1648.2" y2="1469" stroke="#E5E5E5" stroke-width="2"/>
<line x1="1868.9" y1="1152" x2="1868.9" y2="1469" stroke="#E5E5E5" stroke-width="2"/>
<line x1="1422" y1="1165.3" x2="2051" y2="1165.3" stroke="#E5E5E5" stroke-width="2"/>
<line x1="1422" y1="1187.7" x2="2051" y2="1187.7" stroke="#E5E5E5" stroke-width="2"/>
<line x1="1422" y1="1210.1" x2="2051" y2="1210.1" stroke="#E5E5E5" stroke-width="2"/>
<line x1="1422" y1="1232.6" x2="2051" y2="1232.6" stroke="#E5E5E5" stroke-width="2"/>
<line x1="1422" y1="1255.0" x2="2051" y2="1255.0" stroke="#E5E5E5" stroke-width="2"/>
<line x1="1422" y1="1277.4" x2="2051" y2="1277.4" stroke="#E5E5E5" stroke-width="2"/>
<line x1="1422" y1="1299.8" x2="2051" y2="1299.8" stroke="#E5E5E5" stroke-width="2"/>
<line x1="1422" y1="1322.2" x2="2051" y2="1322.2" stroke="#E5E5E5" stroke-width="2"/>
<line x1="1422" y1="1344.7" x2="2051" y2="1344.7" stroke="#E5E5E5" stroke-width="2"/>
<line x1="1422" y1="1367.1" x2="2051" y2="1367.1" stroke="#E5E5E5" stroke-width="2"/>
<line x1="1422" y1="1389.5" x2="2051" y2="1389.5" stroke="#E5E5E5" stroke-width="2"/>
<line x1="1422" y1="1411.9" x2="2051" y2="1411.9" stroke="#E5E5E5" stroke-width="2"/>
<line x1="1422" y1="1434.3" x2="2051" y2="1434.3" stroke="#E5E5E5" stroke-width="2"/>
<line x1="1422" y1="1456.8" x2="2051" y2="1456.8" stroke="#E5E5E5" stroke-width="2"/>
<line x1="1471.6" y1="1165.3" x2="1648.2" y2="1165.3" stroke="#333" stroke-width="4"/>
<line x1="1868.9" y1="1165.3" x2="1979.2" y2="1165.3" stroke="#333" stroke-width="4"/>
<rect x="1648.2" y="1157.3" width="220.7" height="16" fill="#fff" stroke="#333" stroke-width="4.2" stroke-linejoin="round"/>
<line x1="1758.5" y1="1157.3" x2="1758.5" y2="1173.3" stroke="#333" stroke-width="8"/>
<line x1="1471.6" y1="1187.7" x2="1670.3" y2="1187.7" stroke="#333" stroke-width="4"/>
<line x1="1868.9" y1="1187.7" x2="1979.2" y2="1187.7" stroke="#333" stroke-width="4"/>
<rect x="1670.3" y="1179.7" width="198.6" height="16" fill="#fff" stroke="#333" stroke-width="4.2" stroke-linejoin="round"/>
<line x1="1736.5" y1="1179.7" x2="1736.5" y2="1195.7" stroke="#333" stroke-width="8"/>
<line x1="1471.6" y1="1210.1" x2="1604.1" y2="1210.1" stroke="#333" stroke-width="4"/>
<line x1="1758.5" y1="1210.1" x2="1957.2" y2="1210.1" stroke="#333" stroke-width="4"/>
<rect x="1604.1" y="1202.1" width="154.5" height="16" fill="#fff" stroke="#333" stroke-width="4.2" stroke-linejoin="round"/>
<line x1="1670.3" y1="1202.1" x2="1670.3" y2="1218.1" stroke="#333" stroke-width="8"/>
<circle cx="2001.3" cy="1232.6" r="5.5" fill="#D4D4D4"/>
<line x1="1471.6" y1="1232.6" x2="1582.0" y2="1232.6" stroke="#333" stroke-width="4"/>
<line x1="1736.5" y1="1232.6" x2="1957.2" y2="1232.6" stroke="#333" stroke-width="4"/>
<rect x="1582.0" y="1224.6" width="154.5" height="16" fill="#fff" stroke="#333" stroke-width="4.2" stroke-linejoin="round"/>
<line x1="1670.3" y1="1224.6" x2="1670.3" y2="1240.6" stroke="#333" stroke-width="8"/>
<circle cx="1935.1" cy="1255.0" r="5.5" fill="#D4D4D4"/>
<circle cx="1957.2" cy="1255.0" r="5.5" fill="#D4D4D4"/>
<line x1="1471.6" y1="1255.0" x2="1597.4" y2="1255.0" stroke="#333" stroke-width="4"/>
<line x1="1714.4" y1="1255.0" x2="1868.9" y2="1255.0" stroke="#333" stroke-width="4"/>
<rect x="1597.4" y="1247.0" width="117.0" height="16" fill="#fff" stroke="#333" stroke-width="4.2" stroke-linejoin="round"/>
<line x1="1648.2" y1="1247.0" x2="1648.2" y2="1263.0" stroke="#333" stroke-width="8"/>
<circle cx="1935.1" cy="1277.4" r="5.5" fill="#D4D4D4"/>
<circle cx="1957.2" cy="1277.4" r="5.5" fill="#D4D4D4"/>
<line x1="1449.6" y1="1277.4" x2="1559.9" y2="1277.4" stroke="#333" stroke-width="4"/>
<line x1="1692.3" y1="1277.4" x2="1891.0" y2="1277.4" stroke="#333" stroke-width="4"/>
<rect x="1559.9" y="1269.4" width="132.4" height="16" fill="#fff" stroke="#333" stroke-width="4.2" stroke-linejoin="round"/>
<line x1="1604.1" y1="1269.4" x2="1604.1" y2="1285.4" stroke="#333" stroke-width="8"/>
<line x1="1449.6" y1="1299.8" x2="1515.8" y2="1299.8" stroke="#333" stroke-width="4"/>
<line x1="1714.4" y1="1299.8" x2="1846.8" y2="1299.8" stroke="#333" stroke-width="4"/>
<rect x="1515.8" y="1291.8" width="198.6" height="16" fill="#fff" stroke="#333" stroke-width="4.2" stroke-linejoin="round"/>
<line x1="1670.3" y1="1291.8" x2="1670.3" y2="1307.8" stroke="#333" stroke-width="8"/>
<circle cx="1957.2" cy="1322.2" r="5.5" fill="#D4D4D4"/>
<line x1="1471.6" y1="1322.2" x2="1559.9" y2="1322.2" stroke="#333" stroke-width="4"/>
<line x1="1692.3" y1="1322.2" x2="1824.8" y2="1322.2" stroke="#333" stroke-width="4"/>
<rect x="1559.9" y="1314.2" width="132.4" height="16" fill="#fff" stroke="#333" stroke-width="4.2" stroke-linejoin="round"/>
<line x1="1582.0" y1="1314.2" x2="1582.0" y2="1330.2" stroke="#333" stroke-width="8"/>
<line x1="1471.6" y1="1344.7" x2="1515.8" y2="1344.7" stroke="#333" stroke-width="4"/>
<line x1="1714.4" y1="1344.7" x2="1913.0" y2="1344.7" stroke="#333" stroke-width="4"/>
<rect x="1515.8" y="1336.7" width="198.6" height="16" fill="#fff" stroke="#333" stroke-width="4.2" stroke-linejoin="round"/>
<line x1="1615.1" y1="1336.7" x2="1615.1" y2="1352.7" stroke="#333" stroke-width="8"/>
<circle cx="1868.9" cy="1367.1" r="5.5" fill="#D4D4D4"/>
<circle cx="1891.0" cy="1367.1" r="5.5" fill="#D4D4D4"/>
<circle cx="1913.0" cy="1367.1" r="5.5" fill="#D4D4D4"/>
<circle cx="1935.1" cy="1367.1" r="5.5" fill="#D4D4D4"/>
<circle cx="1979.2" cy="1367.1" r="5.5" fill="#D4D4D4"/>
<line x1="1449.6" y1="1367.1" x2="1515.8" y2="1367.1" stroke="#333" stroke-width="4"/>
<line x1="1632.8" y1="1367.1" x2="1802.7" y2="1367.1" stroke="#333" stroke-width="4"/>
<rect x="1515.8" y="1359.1" width="117.0" height="16" fill="#fff" stroke="#333" stroke-width="4.2" stroke-linejoin="round"/>
<line x1="1582.0" y1="1359.1" x2="1582.0" y2="1375.1" stroke="#333" stroke-width="8"/>
<circle cx="1846.8" cy="1389.5" r="5.5" fill="#D4D4D4"/>
<circle cx="1868.9" cy="1389.5" r="5.5" fill="#D4D4D4"/>
<line x1="1449.6" y1="1389.5" x2="1537.8" y2="1389.5" stroke="#333" stroke-width="4"/>
<line x1="1659.2" y1="1389.5" x2="1780.6" y2="1389.5" stroke="#333" stroke-width="4"/>
<rect x="1537.8" y="1381.5" width="121.4" height="16" fill="#fff" stroke="#333" stroke-width="4.2" stroke-linejoin="round"/>
<line x1="1582.0" y1="1381.5" x2="1582.0" y2="1397.5" stroke="#333" stroke-width="8"/>
<line x1="1471.6" y1="1411.9" x2="1515.8" y2="1411.9" stroke="#333" stroke-width="4"/>
<line x1="1670.3" y1="1411.9" x2="1868.9" y2="1411.9" stroke="#333" stroke-width="4"/>
<rect x="1515.8" y="1403.9" width="154.5" height="16" fill="#fff" stroke="#333" stroke-width="4.2" stroke-linejoin="round"/>
<line x1="1582.0" y1="1403.9" x2="1582.0" y2="1419.9" stroke="#333" stroke-width="8"/>
<line x1="1449.6" y1="1434.3" x2="1493.7" y2="1434.3" stroke="#333" stroke-width="4"/>
<line x1="1670.3" y1="1434.3" x2="1891.0" y2="1434.3" stroke="#333" stroke-width="4"/>
<rect x="1493.7" y="1426.3" width="176.6" height="16" fill="#fff" stroke="#333" stroke-width="4.2" stroke-linejoin="round"/>
<line x1="1537.8" y1="1426.3" x2="1537.8" y2="1442.3" stroke="#333" stroke-width="8"/>
<circle cx="1648.2" cy="1456.8" r="5.5" fill="#D4D4D4"/>
<circle cx="1714.4" cy="1456.8" r="5.5" fill="#D4D4D4"/>
<circle cx="1824.8" cy="1456.8" r="5.5" fill="#D4D4D4"/>
<line x1="1449.6" y1="1456.8" x2="1449.6" y2="1456.8" stroke="#333" stroke-width="4"/>
<line x1="1515.8" y1="1456.8" x2="1582.0" y2="1456.8" stroke="#333" stroke-width="4"/>
<rect x="1449.6" y="1448.8" width="66.2" height="16" fill="#fff" stroke="#333" stroke-width="4.2" stroke-linejoin="round"/>
<line x1="1471.6" y1="1448.8" x2="1471.6" y2="1464.8" stroke="#333" stroke-width="8"/>
<rect x="1422" y="1152" width="629" height="317" fill="none" stroke="#7F7F7F" stroke-width="2.4"/>
<line x1="1427.5" y1="1469" x2="1427.5" y2="1481" stroke="#000" stroke-width="3.6"/>
<text x="1427.5" y="1507.0" text-anchor="middle" font-size="26" fill="#000">0</text>
<line x1="1648.2" y1="1469" x2="1648.2" y2="1481" stroke="#000" stroke-width="3.6"/>
<text x="1648.2" y="1507.0" text-anchor="middle" font-size="26" fill="#000">10</text>
<line x1="1868.9" y1="1469" x2="1868.9" y2="1481" stroke="#000" stroke-width="3.6"/>
<text x="1868.9" y="1507.0" text-anchor="middle" font-size="26" fill="#000">20</text>
<text x="1112" y="1525" text-anchor="middle" font-size="42.4" fill="#000">degree</text>
<line x1="278.8" y1="1561" x2="278.8" y2="1877" stroke="#F2F2F2" stroke-width="1.2"/>
<line x1="505.0" y1="1561" x2="505.0" y2="1877" stroke="#F2F2F2" stroke-width="1.2"/>
<line x1="731.2" y1="1561" x2="731.2" y2="1877" stroke="#F2F2F2" stroke-width="1.2"/>
<line x1="165.7" y1="1561" x2="165.7" y2="1877" stroke="#E5E5E5" stroke-width="2"/>
<line x1="391.9" y1="1561" x2="391.9" y2="1877" stroke="#E5E5E5" stroke-width="2"/>
<line x1="618.1" y1="1561" x2="618.1" y2="1877" stroke="#E5E5E5" stroke-width="2"/>
<line x1="142" y1="1574.8" x2="770.5" y2="1574.8" stroke="#E5E5E5" stroke-width="2"/>
<line x1="142" y1="1597.2" x2="770.5" y2="1597.2" stroke="#E5E5E5" stroke-width="2"/>
<line x1="142" y1="1619.6" x2="770.5" y2="1619.6" stroke="#E5E5E5" stroke-width="2"/>
<line x1="142" y1="1641.9" x2="770.5" y2="1641.9" stroke="#E5E5E5" stroke-width="2"/>
<line x1="142" y1="1664.3" x2="770.5" y2="1664.3" stroke="#E5E5E5" stroke-width="2"/>
<line x1="142" y1="1686.7" x2="770.5" y2="1686.7" stroke="#E5E5E5" stroke-width="2"/>
<line x1="142" y1="1709.1" x2="770.5" y2="1709.1" stroke="#E5E5E5" stroke-width="2"/>
<line x1="142" y1="1731.5" x2="770.5" y2="1731.5" stroke="#E5E5E5" stroke-width="2"/>
<line x1="142" y1="1753.8" x2="770.5" y2="1753.8" stroke="#E5E5E5" stroke-width="2"/>
<line x1="142" y1="1776.2" x2="770.5" y2="1776.2" stroke="#E5E5E5" stroke-width="2"/>
<line x1="142" y1="1798.6" x2="770.5" y2="1798.6" stroke="#E5E5E5" stroke-width="2"/>
<line x1="142" y1="1821.0" x2="770.5" y2="1821.0" stroke="#E5E5E5" stroke-width="2"/>
<line x1="142" y1="1843.4" x2="770.5" y2="1843.4" stroke="#E5E5E5" stroke-width="2"/>
<line x1="142" y1="1865.7" x2="770.5" y2="1865.7" stroke="#E5E5E5" stroke-width="2"/>
<line x1="203.2" y1="1574.8" x2="282.4" y2="1574.8" stroke="#333" stroke-width="4"/>
<line x1="414.1" y1="1574.8" x2="571.5" y2="1574.8" stroke="#333" stroke-width="4"/>
<rect x="282.4" y="1566.8" width="131.6" height="16" fill="#fff" stroke="#333" stroke-width="4.2" stroke-linejoin="round"/>
<line x1="347.6" y1="1566.8" x2="347.6" y2="1582.8" stroke="#333" stroke-width="8"/>
<line x1="176.1" y1="1597.2" x2="249.8" y2="1597.2" stroke="#333" stroke-width="4"/>
<line x1="408.2" y1="1597.2" x2="508.2" y2="1597.2" stroke="#333" stroke-width="4"/>
<rect x="249.8" y="1589.2" width="158.3" height="16" fill="#fff" stroke="#333" stroke-width="4.2" stroke-linejoin="round"/>
<line x1="308.7" y1="1589.2" x2="308.7" y2="1605.2" stroke="#333" stroke-width="8"/>
<circle cx="444.4" cy="1619.6" r="5.5" fill="#D4D4D4"/>
<circle cx="528.5" cy="1619.6" r="5.5" fill="#D4D4D4"/>
<circle cx="533.5" cy="1619.6" r="5.5" fill="#D4D4D4"/>
<line x1="173.8" y1="1619.6" x2="208.2" y2="1619.6" stroke="#333" stroke-width="4"/>
<line x1="298.7" y1="1619.6" x2="408.2" y2="1619.6" stroke="#333" stroke-width="4"/>
<rect x="208.2" y="1611.6" width="90.5" height="16" fill="#fff" stroke="#333" stroke-width="4.2" stroke-linejoin="round"/>
<line x1="229.9" y1="1611.6" x2="229.9" y2="1627.6" stroke="#333" stroke-width="8"/>
<circle cx="428.5" cy="1641.9" r="5.5" fill="#D4D4D4"/>
<circle cx="444.4" cy="1641.9" r="5.5" fill="#D4D4D4"/>
<line x1="174.7" y1="1641.9" x2="203.7" y2="1641.9" stroke="#333" stroke-width="4"/>
<line x1="294.2" y1="1641.9" x2="422.2" y2="1641.9" stroke="#333" stroke-width="4"/>
<rect x="203.7" y="1633.9" width="90.5" height="16" fill="#fff" stroke="#333" stroke-width="4.2" stroke-linejoin="round"/>
<line x1="236.7" y1="1633.9" x2="236.7" y2="1649.9" stroke="#333" stroke-width="8"/>
<line x1="173.8" y1="1664.3" x2="191.0" y2="1664.3" stroke="#333" stroke-width="4"/>
<line x1="274.7" y1="1664.3" x2="362.0" y2="1664.3" stroke="#333" stroke-width="4"/>
<rect x="191.0" y="1656.3" width="83.7" height="16" fill="#fff" stroke="#333" stroke-width="4.2" stroke-linejoin="round"/>
<line x1="225.0" y1="1656.3" x2="225.0" y2="1672.3" stroke="#333" stroke-width="8"/>
<circle cx="257.1" cy="1686.7" r="5.5" fill="#D4D4D4"/>
<circle cx="267.9" cy="1686.7" r="5.5" fill="#D4D4D4"/>
<circle cx="290.6" cy="1686.7" r="5.5" fill="#D4D4D4"/>
<line x1="173.8" y1="1686.7" x2="184.7" y2="1686.7" stroke="#333" stroke-width="4"/>
<line x1="213.7" y1="1686.7" x2="239.0" y2="1686.7" stroke="#333" stroke-width="4"/>
<rect x="184.7" y="1678.7" width="29.0" height="16" fill="#fff" stroke="#333" stroke-width="4.2" stroke-linejoin="round"/>
<line x1="195.1" y1="1678.7" x2="195.1" y2="1694.7" stroke="#333" stroke-width="8"/>
<circle cx="454.8" cy="1709.1" r="5.5" fill="#D4D4D4"/>
<line x1="182.4" y1="1709.1" x2="213.7" y2="1709.1" stroke="#333" stroke-width="4"/>
<line x1="303.7" y1="1709.1" x2="417.7" y2="1709.1" stroke="#333" stroke-width="4"/>
<rect x="213.7" y="1701.1" width="90.0" height="16" fill="#fff" stroke="#333" stroke-width="4.2" stroke-linejoin="round"/>
<line x1="234.9" y1="1701.1" x2="234.9" y2="1717.1" stroke="#333" stroke-width="8"/>
<line x1="196.5" y1="1731.5" x2="253.0" y2="1731.5" stroke="#333" stroke-width="4"/>
<line x1="415.4" y1="1731.5" x2="564.3" y2="1731.5" stroke="#333" stroke-width="4"/>
<rect x="253.0" y="1723.5" width="162.4" height="16" fill="#fff" stroke="#333" stroke-width="4.2" stroke-linejoin="round"/>
<line x1="326.3" y1="1723.5" x2="326.3" y2="1739.5" stroke="#333" stroke-width="8"/>
<circle cx="332.2" cy="1753.8" r="5.5" fill="#D4D4D4"/>
<circle cx="430.8" cy="1753.8" r="5.5" fill="#D4D4D4"/>
<circle cx="445.7" cy="1753.8" r="5.5" fill="#D4D4D4"/>
<line x1="174.7" y1="1753.8" x2="196.5" y2="1753.8" stroke="#333" stroke-width="4"/>
<line x1="248.0" y1="1753.8" x2="307.3" y2="1753.8" stroke="#333" stroke-width="4"/>
<rect x="196.5" y="1745.8" width="51.6" height="16" fill="#fff" stroke="#333" stroke-width="4.2" stroke-linejoin="round"/>
<line x1="219.1" y1="1745.8" x2="219.1" y2="1761.8" stroke="#333" stroke-width="8"/>
<line x1="178.8" y1="1776.2" x2="211.8" y2="1776.2" stroke="#333" stroke-width="4"/>
<line x1="335.8" y1="1776.2" x2="504.5" y2="1776.2" stroke="#333" stroke-width="4"/>
<rect x="211.8" y="1768.2" width="124.0" height="16" fill="#fff" stroke="#333" stroke-width="4.2" stroke-linejoin="round"/>
<line x1="284.2" y1="1768.2" x2="284.2" y2="1784.2" stroke="#333" stroke-width="8"/>
<circle cx="327.7" cy="1798.6" r="5.5" fill="#D4D4D4"/>
<line x1="176.1" y1="1798.6" x2="191.0" y2="1798.6" stroke="#333" stroke-width="4"/>
<line x1="245.3" y1="1798.6" x2="317.7" y2="1798.6" stroke="#333" stroke-width="4"/>
<rect x="191.0" y="1790.6" width="54.3" height="16" fill="#fff" stroke="#333" stroke-width="4.2" stroke-linejoin="round"/>
<line x1="215.9" y1="1790.6" x2="215.9" y2="1806.6" stroke="#333" stroke-width="8"/>
<circle cx="443.0" cy="1821.0" r="5.5" fill="#D4D4D4"/>
<circle cx="473.8" cy="1821.0" r="5.5" fill="#D4D4D4"/>
<line x1="173.8" y1="1821.0" x2="196.0" y2="1821.0" stroke="#333" stroke-width="4"/>
<line x1="283.8" y1="1821.0" x2="384.2" y2="1821.0" stroke="#333" stroke-width="4"/>
<rect x="196.0" y="1813.0" width="87.8" height="16" fill="#fff" stroke="#333" stroke-width="4.2" stroke-linejoin="round"/>
<line x1="239.4" y1="1813.0" x2="239.4" y2="1829.0" stroke="#333" stroke-width="8"/>
<circle cx="443.0" cy="1843.4" r="5.5" fill="#D4D4D4"/>
<line x1="173.8" y1="1843.4" x2="221.3" y2="1843.4" stroke="#333" stroke-width="4"/>
<line x1="300.1" y1="1843.4" x2="407.3" y2="1843.4" stroke="#333" stroke-width="4"/>
<rect x="221.3" y="1835.4" width="78.7" height="16" fill="#fff" stroke="#333" stroke-width="4.2" stroke-linejoin="round"/>
<line x1="264.3" y1="1835.4" x2="264.3" y2="1851.4" stroke="#333" stroke-width="8"/>
<line x1="173.8" y1="1865.7" x2="173.8" y2="1865.7" stroke="#333" stroke-width="4"/>
<line x1="195.1" y1="1865.7" x2="208.2" y2="1865.7" stroke="#333" stroke-width="4"/>
<rect x="173.8" y="1857.7" width="21.3" height="16" fill="#fff" stroke="#333" stroke-width="4.2" stroke-linejoin="round"/>
<line x1="180.2" y1="1857.7" x2="180.2" y2="1873.7" stroke="#333" stroke-width="8"/>
<rect x="142" y="1561" width="628.5" height="316" fill="none" stroke="#7F7F7F" stroke-width="2.4"/>
<line x1="165.7" y1="1877" x2="165.7" y2="1889" stroke="#000" stroke-width="3.6"/>
<text x="165.7" y="1915.5" text-anchor="middle" font-size="26" fill="#000">0</text>
<line x1="391.9" y1="1877" x2="391.9" y2="1889" stroke="#000" stroke-width="3.6"/>
<text x="391.9" y="1915.5" text-anchor="middle" font-size="26" fill="#000">5</text>
<line x1="618.1" y1="1877" x2="618.1" y2="1889" stroke="#000" stroke-width="3.6"/>
<text x="618.1" y="1915.5" text-anchor="middle" font-size="26" fill="#000">10</text>
<line x1="130" y1="1574.8" x2="142" y2="1574.8" stroke="#000" stroke-width="3.6"/>
<text x="123" y="1583.6" text-anchor="end" font-size="26" fill="#000">M1</text>
<line x1="130" y1="1597.2" x2="142" y2="1597.2" stroke="#000" stroke-width="3.6"/>
<text x="123" y="1606.0" text-anchor="end" font-size="26" fill="#000">M2</text>
<line x1="130" y1="1619.6" x2="142" y2="1619.6" stroke="#000" stroke-width="3.6"/>
<text x="123" y="1628.4" text-anchor="end" font-size="26" fill="#000">V2M</text>
<line x1="130" y1="1641.9" x2="142" y2="1641.9" stroke="#000" stroke-width="3.6"/>
<text x="123" y="1650.7" text-anchor="end" font-size="26" fill="#000">PPC</text>
<line x1="130" y1="1664.3" x2="142" y2="1664.3" stroke="#000" stroke-width="3.6"/>
<text x="123" y="1673.1" text-anchor="end" font-size="26" fill="#000">V2L</text>
<line x1="130" y1="1686.7" x2="142" y2="1686.7" stroke="#000" stroke-width="3.6"/>
<text x="123" y="1695.5" text-anchor="end" font-size="26" fill="#000">V1</text>
<line x1="130" y1="1709.1" x2="142" y2="1709.1" stroke="#000" stroke-width="3.6"/>
<text x="123" y="1717.9" text-anchor="end" font-size="26" fill="#000">T</text>
<line x1="130" y1="1731.5" x2="142" y2="1731.5" stroke="#000" stroke-width="3.6"/>
<text x="123" y="1740.3" text-anchor="end" font-size="26" fill="#000">RSA</text>
<line x1="130" y1="1753.8" x2="142" y2="1753.8" stroke="#000" stroke-width="3.6"/>
<text x="123" y="1762.6" text-anchor="end" font-size="26" fill="#000">AS</text>
<line x1="130" y1="1776.2" x2="142" y2="1776.2" stroke="#000" stroke-width="3.6"/>
<text x="123" y="1785.0" text-anchor="end" font-size="26" fill="#000">HL</text>
<line x1="130" y1="1798.6" x2="142" y2="1798.6" stroke="#000" stroke-width="3.6"/>
<text x="123" y="1807.4" text-anchor="end" font-size="26" fill="#000">LS</text>
<line x1="130" y1="1821.0" x2="142" y2="1821.0" stroke="#000" stroke-width="3.6"/>
<text x="123" y="1829.8" text-anchor="end" font-size="26" fill="#000">barrel</text>
<line x1="130" y1="1843.4" x2="142" y2="1843.4" stroke="#000" stroke-width="3.6"/>
<text x="123" y="1852.2" text-anchor="end" font-size="26" fill="#000">FL</text>
<line x1="130" y1="1865.7" x2="142" y2="1865.7" stroke="#000" stroke-width="3.6"/>
<text x="123" y="1874.5" text-anchor="end" font-size="26" fill="#000">A1</text>
<line x1="918.8" y1="1561" x2="918.8" y2="1877" stroke="#F2F2F2" stroke-width="1.2"/>
<line x1="1145.0" y1="1561" x2="1145.0" y2="1877" stroke="#F2F2F2" stroke-width="1.2"/>
<line x1="1371.2" y1="1561" x2="1371.2" y2="1877" stroke="#F2F2F2" stroke-width="1.2"/>
<line x1="805.7" y1="1561" x2="805.7" y2="1877" stroke="#E5E5E5" stroke-width="2"/>
<line x1="1031.9" y1="1561" x2="1031.9" y2="1877" stroke="#E5E5E5" stroke-width="2"/>
<line x1="1258.1" y1="1561" x2="1258.1" y2="1877" stroke="#E5E5E5" stroke-width="2"/>
<line x1="782" y1="1574.8" x2="1411" y2="1574.8" stroke="#E5E5E5" stroke-width="2"/>
<line x1="782" y1="1597.2" x2="1411" y2="1597.2" stroke="#E5E5E5" stroke-width="2"/>
<line x1="782" y1="1619.6" x2="1411" y2="1619.6" stroke="#E5E5E5" stroke-width="2"/>
<line x1="782" y1="1641.9" x2="1411" y2="1641.9" stroke="#E5E5E5" stroke-width="2"/>
<line x1="782" y1="1664.3" x2="1411" y2="1664.3" stroke="#E5E5E5" stroke-width="2"/>
<line x1="782" y1="1686.7" x2="1411" y2="1686.7" stroke="#E5E5E5" stroke-width="2"/>
<line x1="782" y1="1709.1" x2="1411" y2="1709.1" stroke="#E5E5E5" stroke-width="2"/>
<line x1="782" y1="1731.5" x2="1411" y2="1731.5" stroke="#E5E5E5" stroke-width="2"/>
<line x1="782" y1="1753.8" x2="1411" y2="1753.8" stroke="#E5E5E5" stroke-width="2"/>
<line x1="782" y1="1776.2" x2="1411" y2="1776.2" stroke="#E5E5E5" stroke-width="2"/>
<line x1="782" y1="1798.6" x2="1411" y2="1798.6" stroke="#E5E5E5" stroke-width="2"/>
<line x1="782" y1="1821.0" x2="1411" y2="1821.0" stroke="#E5E5E5" stroke-width="2"/>
<line x1="782" y1="1843.4" x2="1411" y2="1843.4" stroke="#E5E5E5" stroke-width="2"/>
<line x1="782" y1="1865.7" x2="1411" y2="1865.7" stroke="#E5E5E5" stroke-width="2"/>
<circle cx="1095.2" cy="1574.8" r="5.5" fill="#D4D4D4"/>
<circle cx="1143.2" cy="1574.8" r="5.5" fill="#D4D4D4"/>
<line x1="825.2" y1="1574.8" x2="885.3" y2="1574.8" stroke="#333" stroke-width="4"/>
<line x1="969.9" y1="1574.8" x2="1080.3" y2="1574.8" stroke="#333" stroke-width="4"/>
<rect x="885.3" y="1566.8" width="84.6" height="16" fill="#fff" stroke="#333" stroke-width="4.2" stroke-linejoin="round"/>
<line x1="913.8" y1="1566.8" x2="913.8" y2="1582.8" stroke="#333" stroke-width="8"/>
<circle cx="1050.4" cy="1597.2" r="5.5" fill="#D4D4D4"/>
<circle cx="1068.1" cy="1597.2" r="5.5" fill="#D4D4D4"/>
<circle cx="1107.5" cy="1597.2" r="5.5" fill="#D4D4D4"/>
<line x1="817.9" y1="1597.2" x2="871.3" y2="1597.2" stroke="#333" stroke-width="4"/>
<line x1="940.1" y1="1597.2" x2="1012.0" y2="1597.2" stroke="#333" stroke-width="4"/>
<rect x="871.3" y="1589.2" width="68.8" height="16" fill="#fff" stroke="#333" stroke-width="4.2" stroke-linejoin="round"/>
<line x1="893.5" y1="1589.2" x2="893.5" y2="1605.2" stroke="#333" stroke-width="8"/>
<line x1="819.7" y1="1619.6" x2="852.3" y2="1619.6" stroke="#333" stroke-width="4"/>
<line x1="905.2" y1="1619.6" x2="979.0" y2="1619.6" stroke="#333" stroke-width="4"/>
<rect x="852.3" y="1611.6" width="52.9" height="16" fill="#fff" stroke="#333" stroke-width="4.2" stroke-linejoin="round"/>
<line x1="880.8" y1="1611.6" x2="880.8" y2="1627.6" stroke="#333" stroke-width="8"/>
<circle cx="1063.6" cy="1641.9" r="5.5" fill="#D4D4D4"/>
<line x1="814.3" y1="1641.9" x2="853.7" y2="1641.9" stroke="#333" stroke-width="4"/>
<line x1="931.0" y1="1641.9" x2="1029.2" y2="1641.9" stroke="#333" stroke-width="4"/>
<rect x="853.7" y="1633.9" width="77.4" height="16" fill="#fff" stroke="#333" stroke-width="4.2" stroke-linejoin="round"/>
<line x1="879.9" y1="1633.9" x2="879.9" y2="1649.9" stroke="#333" stroke-width="8"/>
<circle cx="954.1" cy="1664.3" r="5.5" fill="#D4D4D4"/>
<circle cx="959.1" cy="1664.3" r="5.5" fill="#D4D4D4"/>
<circle cx="975.8" cy="1664.3" r="5.5" fill="#D4D4D4"/>
<circle cx="993.0" cy="1664.3" r="5.5" fill="#D4D4D4"/>
<line x1="814.3" y1="1664.3" x2="841.4" y2="1664.3" stroke="#333" stroke-width="4"/>
<line x1="884.0" y1="1664.3" x2="929.2" y2="1664.3" stroke="#333" stroke-width="4"/>
<rect x="841.4" y="1656.3" width="42.5" height="16" fill="#fff" stroke="#333" stroke-width="4.2" stroke-linejoin="round"/>
<line x1="855.5" y1="1656.3" x2="855.5" y2="1672.3" stroke="#333" stroke-width="8"/>
<circle cx="903.4" cy="1686.7" r="5.5" fill="#D4D4D4"/>
<circle cx="944.6" cy="1686.7" r="5.5" fill="#D4D4D4"/>
<line x1="814.3" y1="1686.7" x2="830.6" y2="1686.7" stroke="#333" stroke-width="4"/>
<line x1="857.7" y1="1686.7" x2="886.7" y2="1686.7" stroke="#333" stroke-width="4"/>
<rect x="830.6" y="1678.7" width="27.1" height="16" fill="#fff" stroke="#333" stroke-width="4.2" stroke-linejoin="round"/>
<line x1="840.5" y1="1678.7" x2="840.5" y2="1694.7" stroke="#333" stroke-width="8"/>
<circle cx="971.7" cy="1709.1" r="5.5" fill="#D4D4D4"/>
<circle cx="982.6" cy="1709.1" r="5.5" fill="#D4D4D4"/>
<circle cx="1074.0" cy="1709.1" r="5.5" fill="#D4D4D4"/>
<circle cx="1085.3" cy="1709.1" r="5.5" fill="#D4D4D4"/>
<line x1="840.5" y1="1709.1" x2="861.3" y2="1709.1" stroke="#333" stroke-width="4"/>
<line x1="901.6" y1="1709.1" x2="955.0" y2="1709.1" stroke="#333" stroke-width="4"/>
<rect x="861.3" y="1701.1" width="40.3" height="16" fill="#fff" stroke="#333" stroke-width="4.2" stroke-linejoin="round"/>
<line x1="871.3" y1="1701.1" x2="871.3" y2="1717.1" stroke="#333" stroke-width="8"/>
<circle cx="1083.0" cy="1731.5" r="5.5" fill="#D4D4D4"/>
<circle cx="1112.0" cy="1731.5" r="5.5" fill="#D4D4D4"/>
<line x1="823.8" y1="1731.5" x2="851.4" y2="1731.5" stroke="#333" stroke-width="4"/>
<line x1="945.0" y1="1731.5" x2="1050.4" y2="1731.5" stroke="#333" stroke-width="4"/>
<rect x="851.4" y="1723.5" width="93.6" height="16" fill="#fff" stroke="#333" stroke-width="4.2" stroke-linejoin="round"/>
<line x1="879.4" y1="1723.5" x2="879.4" y2="1739.5" stroke="#333" stroke-width="8"/>
<circle cx="938.3" cy="1753.8" r="5.5" fill="#D4D4D4"/>
<line x1="814.3" y1="1753.8" x2="826.5" y2="1753.8" stroke="#333" stroke-width="4"/>
<line x1="863.2" y1="1753.8" x2="902.1" y2="1753.8" stroke="#333" stroke-width="4"/>
<rect x="826.5" y="1745.8" width="36.6" height="16" fill="#fff" stroke="#333" stroke-width="4.2" stroke-linejoin="round"/>
<line x1="845.1" y1="1745.8" x2="845.1" y2="1761.8" stroke="#333" stroke-width="8"/>
<circle cx="981.7" cy="1776.2" r="5.5" fill="#D4D4D4"/>
<circle cx="993.9" cy="1776.2" r="5.5" fill="#D4D4D4"/>
<circle cx="1048.2" cy="1776.2" r="5.5" fill="#D4D4D4"/>
<line x1="829.2" y1="1776.2" x2="860.4" y2="1776.2" stroke="#333" stroke-width="4"/>
<line x1="908.4" y1="1776.2" x2="967.7" y2="1776.2" stroke="#333" stroke-width="4"/>
<rect x="860.4" y="1768.2" width="48.0" height="16" fill="#fff" stroke="#333" stroke-width="4.2" stroke-linejoin="round"/>
<line x1="873.6" y1="1768.2" x2="873.6" y2="1784.2" stroke="#333" stroke-width="8"/>
<circle cx="813.4" cy="1798.6" r="5.5" fill="#D4D4D4"/>
<circle cx="865.4" cy="1798.6" r="5.5" fill="#D4D4D4"/>
<line x1="817.9" y1="1798.6" x2="832.4" y2="1798.6" stroke="#333" stroke-width="4"/>
<line x1="846.4" y1="1798.6" x2="861.8" y2="1798.6" stroke="#333" stroke-width="4"/>
<rect x="832.4" y="1790.6" width="14.0" height="16" fill="#fff" stroke="#333" stroke-width="4.2" stroke-linejoin="round"/>
<line x1="840.5" y1="1790.6" x2="840.5" y2="1806.6" stroke="#333" stroke-width="8"/>
<circle cx="998.0" cy="1821.0" r="5.5" fill="#D4D4D4"/>
<circle cx="1013.8" cy="1821.0" r="5.5" fill="#D4D4D4"/>
<line x1="815.2" y1="1821.0" x2="833.7" y2="1821.0" stroke="#333" stroke-width="4"/>
<line x1="892.6" y1="1821.0" x2="973.1" y2="1821.0" stroke="#333" stroke-width="4"/>
<rect x="833.7" y="1813.0" width="58.8" height="16" fill="#fff" stroke="#333" stroke-width="4.2" stroke-linejoin="round"/>
<line x1="850.0" y1="1813.0" x2="850.0" y2="1829.0" stroke="#333" stroke-width="8"/>
<circle cx="974.9" cy="1843.4" r="5.5" fill="#D4D4D4"/>
<circle cx="1059.0" cy="1843.4" r="5.5" fill="#D4D4D4"/>
<line x1="814.3" y1="1843.4" x2="813.4" y2="1843.4" stroke="#333" stroke-width="4"/>
<line x1="873.6" y1="1843.4" x2="905.7" y2="1843.4" stroke="#333" stroke-width="4"/>
<rect x="813.4" y="1835.4" width="60.2" height="16" fill="#fff" stroke="#333" stroke-width="4.2" stroke-linejoin="round"/>
<line x1="823.8" y1="1835.4" x2="823.8" y2="1851.4" stroke="#333" stroke-width="8"/>
<line x1="814.3" y1="1865.7" x2="814.3" y2="1865.7" stroke="#333" stroke-width="4"/>
<line x1="834.2" y1="1865.7" x2="846.4" y2="1865.7" stroke="#333" stroke-width="4"/>
<rect x="814.3" y="1857.7" width="19.9" height="16" fill="#fff" stroke="#333" stroke-width="4.2" stroke-linejoin="round"/>
<line x1="823.8" y1="1857.7" x2="823.8" y2="1873.7" stroke="#333" stroke-width="8"/>
<rect x="782" y="1561" width="629" height="316" fill="none" stroke="#7F7F7F" stroke-width="2.4"/>
<line x1="805.7" y1="1877" x2="805.7" y2="1889" stroke="#000" stroke-width="3.6"/>
<text x="805.7" y="1915.5" text-anchor="middle" font-size="26" fill="#000">0</text>
<line x1="1031.9" y1="1877" x2="1031.9" y2="1889" stroke="#000" stroke-width="3.6"/>
<text x="1031.9" y="1915.5" text-anchor="middle" font-size="26" fill="#000">5</text>
<line x1="1258.1" y1="1877" x2="1258.1" y2="1889" stroke="#000" stroke-width="3.6"/>
<text x="1258.1" y="1915.5" text-anchor="middle" font-size="26" fill="#000">10</text>
<line x1="1559.1" y1="1561" x2="1559.1" y2="1877" stroke="#F2F2F2" stroke-width="1.2"/>
<line x1="1785.3" y1="1561" x2="1785.3" y2="1877" stroke="#F2F2F2" stroke-width="1.2"/>
<line x1="2011.5" y1="1561" x2="2011.5" y2="1877" stroke="#F2F2F2" stroke-width="1.2"/>
<line x1="1446.0" y1="1561" x2="1446.0" y2="1877" stroke="#E5E5E5" stroke-width="2"/>
<line x1="1672.2" y1="1561" x2="1672.2" y2="1877" stroke="#E5E5E5" stroke-width="2"/>
<line x1="1898.4" y1="1561" x2="1898.4" y2="1877" stroke="#E5E5E5" stroke-width="2"/>
<line x1="1422" y1="1574.8" x2="2051" y2="1574.8" stroke="#E5E5E5" stroke-width="2"/>
<line x1="1422" y1="1597.2" x2="2051" y2="1597.2" stroke="#E5E5E5" stroke-width="2"/>
<line x1="1422" y1="1619.6" x2="2051" y2="1619.6" stroke="#E5E5E5" stroke-width="2"/>
<line x1="1422" y1="1641.9" x2="2051" y2="1641.9" stroke="#E5E5E5" stroke-width="2"/>
<line x1="1422" y1="1664.3" x2="2051" y2="1664.3" stroke="#E5E5E5" stroke-width="2"/>
<line x1="1422" y1="1686.7" x2="2051" y2="1686.7" stroke="#E5E5E5" stroke-width="2"/>
<line x1="1422" y1="1709.1" x2="2051" y2="1709.1" stroke="#E5E5E5" stroke-width="2"/>
<line x1="1422" y1="1731.5" x2="2051" y2="1731.5" stroke="#E5E5E5" stroke-width="2"/>
<line x1="1422" y1="1753.8" x2="2051" y2="1753.8" stroke="#E5E5E5" stroke-width="2"/>
<line x1="1422" y1="1776.2" x2="2051" y2="1776.2" stroke="#E5E5E5" stroke-width="2"/>
<line x1="1422" y1="1798.6" x2="2051" y2="1798.6" stroke="#E5E5E5" stroke-width="2"/>
<line x1="1422" y1="1821.0" x2="2051" y2="1821.0" stroke="#E5E5E5" stroke-width="2"/>
<line x1="1422" y1="1843.4" x2="2051" y2="1843.4" stroke="#E5E5E5" stroke-width="2"/>
<line x1="1422" y1="1865.7" x2="2051" y2="1865.7" stroke="#E5E5E5" stroke-width="2"/>
<line x1="1472.2" y1="1574.8" x2="1594.8" y2="1574.8" stroke="#333" stroke-width="4"/>
<line x1="1775.3" y1="1574.8" x2="2013.3" y2="1574.8" stroke="#333" stroke-width="4"/>
<rect x="1594.8" y="1566.8" width="180.5" height="16" fill="#fff" stroke="#333" stroke-width="4.2" stroke-linejoin="round"/>
<line x1="1679.9" y1="1566.8" x2="1679.9" y2="1582.8" stroke="#333" stroke-width="8"/>
<circle cx="2006.5" cy="1597.2" r="5.5" fill="#D4D4D4"/>
<line x1="1468.2" y1="1597.2" x2="1590.3" y2="1597.2" stroke="#333" stroke-width="4"/>
<line x1="1753.2" y1="1597.2" x2="1989.8" y2="1597.2" stroke="#333" stroke-width="4"/>
<rect x="1590.3" y="1589.2" width="162.9" height="16" fill="#fff" stroke="#333" stroke-width="4.2" stroke-linejoin="round"/>
<line x1="1676.7" y1="1589.2" x2="1676.7" y2="1605.2" stroke="#333" stroke-width="8"/>
<circle cx="1922.8" cy="1619.6" r="5.5" fill="#D4D4D4"/>
<line x1="1465.9" y1="1619.6" x2="1543.7" y2="1619.6" stroke="#333" stroke-width="4"/>
<line x1="1675.8" y1="1619.6" x2="1870.8" y2="1619.6" stroke="#333" stroke-width="4"/>
<rect x="1543.7" y="1611.6" width="132.1" height="16" fill="#fff" stroke="#333" stroke-width="4.2" stroke-linejoin="round"/>
<line x1="1604.3" y1="1611.6" x2="1604.3" y2="1627.6" stroke="#333" stroke-width="8"/>
<circle cx="1893.9" cy="1641.9" r="5.5" fill="#D4D4D4"/>
<circle cx="1902.5" cy="1641.9" r="5.5" fill="#D4D4D4"/>
<line x1="1462.3" y1="1641.9" x2="1532.4" y2="1641.9" stroke="#333" stroke-width="4"/>
<line x1="1674.5" y1="1641.9" x2="1785.3" y2="1641.9" stroke="#333" stroke-width="4"/>
<rect x="1532.4" y="1633.9" width="142.1" height="16" fill="#fff" stroke="#333" stroke-width="4.2" stroke-linejoin="round"/>
<line x1="1592.1" y1="1633.9" x2="1592.1" y2="1649.9" stroke="#333" stroke-width="8"/>
<circle cx="1752.7" cy="1664.3" r="5.5" fill="#D4D4D4"/>
<circle cx="1811.5" cy="1664.3" r="5.5" fill="#D4D4D4"/>
<circle cx="1833.7" cy="1664.3" r="5.5" fill="#D4D4D4"/>
<line x1="1474.5" y1="1664.3" x2="1557.7" y2="1664.3" stroke="#333" stroke-width="4"/>
<line x1="1636.5" y1="1664.3" x2="1736.0" y2="1664.3" stroke="#333" stroke-width="4"/>
<rect x="1557.7" y="1656.3" width="78.7" height="16" fill="#fff" stroke="#333" stroke-width="4.2" stroke-linejoin="round"/>
<line x1="1605.2" y1="1656.3" x2="1605.2" y2="1672.3" stroke="#333" stroke-width="8"/>
<circle cx="1744.6" cy="1686.7" r="5.5" fill="#D4D4D4"/>
<circle cx="1748.2" cy="1686.7" r="5.5" fill="#D4D4D4"/>
<circle cx="1758.6" cy="1686.7" r="5.5" fill="#D4D4D4"/>
<circle cx="1770.4" cy="1686.7" r="5.5" fill="#D4D4D4"/>
<circle cx="1832.3" cy="1686.7" r="5.5" fill="#D4D4D4"/>
<line x1="1461.4" y1="1686.7" x2="1527.9" y2="1686.7" stroke="#333" stroke-width="4"/>
<line x1="1611.1" y1="1686.7" x2="1725.1" y2="1686.7" stroke="#333" stroke-width="4"/>
<rect x="1527.9" y="1678.7" width="83.2" height="16" fill="#fff" stroke="#333" stroke-width="4.2" stroke-linejoin="round"/>
<line x1="1574.9" y1="1678.7" x2="1574.9" y2="1694.7" stroke="#333" stroke-width="8"/>
<line x1="1477.2" y1="1709.1" x2="1523.4" y2="1709.1" stroke="#333" stroke-width="4"/>
<line x1="1650.5" y1="1709.1" x2="1807.5" y2="1709.1" stroke="#333" stroke-width="4"/>
<rect x="1523.4" y="1701.1" width="127.1" height="16" fill="#fff" stroke="#333" stroke-width="4.2" stroke-linejoin="round"/>
<line x1="1554.1" y1="1701.1" x2="1554.1" y2="1717.1" stroke="#333" stroke-width="8"/>
<line x1="1455.0" y1="1731.5" x2="1491.7" y2="1731.5" stroke="#333" stroke-width="4"/>
<line x1="1633.7" y1="1731.5" x2="1767.2" y2="1731.5" stroke="#333" stroke-width="4"/>
<rect x="1491.7" y="1723.5" width="142.1" height="16" fill="#fff" stroke="#333" stroke-width="4.2" stroke-linejoin="round"/>
<line x1="1585.3" y1="1723.5" x2="1585.3" y2="1739.5" stroke="#333" stroke-width="8"/>
<circle cx="1748.2" cy="1753.8" r="5.5" fill="#D4D4D4"/>
<circle cx="1789.4" cy="1753.8" r="5.5" fill="#D4D4D4"/>
<circle cx="1821.9" cy="1753.8" r="5.5" fill="#D4D4D4"/>
<line x1="1468.2" y1="1753.8" x2="1522.0" y2="1753.8" stroke="#333" stroke-width="4"/>
<line x1="1603.9" y1="1753.8" x2="1721.1" y2="1753.8" stroke="#333" stroke-width="4"/>
<rect x="1522.0" y="1745.8" width="81.9" height="16" fill="#fff" stroke="#333" stroke-width="4.2" stroke-linejoin="round"/>
<line x1="1549.1" y1="1745.8" x2="1549.1" y2="1761.8" stroke="#333" stroke-width="8"/>
<circle cx="1701.2" cy="1776.2" r="5.5" fill="#D4D4D4"/>
<circle cx="1717.9" cy="1776.2" r="5.5" fill="#D4D4D4"/>
<circle cx="1730.6" cy="1776.2" r="5.5" fill="#D4D4D4"/>
<circle cx="1738.7" cy="1776.2" r="5.5" fill="#D4D4D4"/>
<circle cx="1758.2" cy="1776.2" r="5.5" fill="#D4D4D4"/>
<circle cx="1772.6" cy="1776.2" r="5.5" fill="#D4D4D4"/>
<line x1="1479.9" y1="1776.2" x2="1519.7" y2="1776.2" stroke="#333" stroke-width="4"/>
<line x1="1591.2" y1="1776.2" x2="1693.5" y2="1776.2" stroke="#333" stroke-width="4"/>
<rect x="1519.7" y="1768.2" width="71.5" height="16" fill="#fff" stroke="#333" stroke-width="4.2" stroke-linejoin="round"/>
<line x1="1550.5" y1="1768.2" x2="1550.5" y2="1784.2" stroke="#333" stroke-width="8"/>
<circle cx="1740.1" cy="1798.6" r="5.5" fill="#D4D4D4"/>
<circle cx="1757.7" cy="1798.6" r="5.5" fill="#D4D4D4"/>
<line x1="1454.1" y1="1798.6" x2="1500.7" y2="1798.6" stroke="#333" stroke-width="4"/>
<line x1="1592.1" y1="1798.6" x2="1717.9" y2="1798.6" stroke="#333" stroke-width="4"/>
<rect x="1500.7" y="1790.6" width="91.4" height="16" fill="#fff" stroke="#333" stroke-width="4.2" stroke-linejoin="round"/>
<line x1="1544.6" y1="1790.6" x2="1544.6" y2="1806.6" stroke="#333" stroke-width="8"/>
<circle cx="1652.3" cy="1821.0" r="5.5" fill="#D4D4D4"/>
<circle cx="1680.3" cy="1821.0" r="5.5" fill="#D4D4D4"/>
<circle cx="1693.9" cy="1821.0" r="5.5" fill="#D4D4D4"/>
<circle cx="1741.9" cy="1821.0" r="5.5" fill="#D4D4D4"/>
<circle cx="1763.6" cy="1821.0" r="5.5" fill="#D4D4D4"/>
<circle cx="1827.4" cy="1821.0" r="5.5" fill="#D4D4D4"/>
<line x1="1454.1" y1="1821.0" x2="1484.9" y2="1821.0" stroke="#333" stroke-width="4"/>
<line x1="1550.1" y1="1821.0" x2="1608.0" y2="1821.0" stroke="#333" stroke-width="4"/>
<rect x="1484.9" y="1813.0" width="65.1" height="16" fill="#fff" stroke="#333" stroke-width="4.2" stroke-linejoin="round"/>
<line x1="1516.1" y1="1813.0" x2="1516.1" y2="1829.0" stroke="#333" stroke-width="8"/>
<circle cx="1744.6" cy="1843.4" r="5.5" fill="#D4D4D4"/>
<circle cx="1756.3" cy="1843.4" r="5.5" fill="#D4D4D4"/>
<circle cx="1782.1" cy="1843.4" r="5.5" fill="#D4D4D4"/>
<line x1="1454.1" y1="1843.4" x2="1475.4" y2="1843.4" stroke="#333" stroke-width="4"/>
<line x1="1573.1" y1="1843.4" x2="1708.4" y2="1843.4" stroke="#333" stroke-width="4"/>
<rect x="1475.4" y="1835.4" width="97.7" height="16" fill="#fff" stroke="#333" stroke-width="4.2" stroke-linejoin="round"/>
<line x1="1512.5" y1="1835.4" x2="1512.5" y2="1851.4" stroke="#333" stroke-width="8"/>
<circle cx="1525.6" cy="1865.7" r="5.5" fill="#D4D4D4"/>
<circle cx="1553.2" cy="1865.7" r="5.5" fill="#D4D4D4"/>
<circle cx="1584.9" cy="1865.7" r="5.5" fill="#D4D4D4"/>
<circle cx="1656.4" cy="1865.7" r="5.5" fill="#D4D4D4"/>
<line x1="1454.1" y1="1865.7" x2="1460.5" y2="1865.7" stroke="#333" stroke-width="4"/>
<line x1="1486.3" y1="1865.7" x2="1521.1" y2="1865.7" stroke="#333" stroke-width="4"/>
<rect x="1460.5" y="1857.7" width="25.8" height="16" fill="#fff" stroke="#333" stroke-width="4.2" stroke-linejoin="round"/>
<line x1="1465.0" y1="1857.7" x2="1465.0" y2="1873.7" stroke="#333" stroke-width="8"/>
<rect x="1422" y="1561" width="629" height="316" fill="none" stroke="#7F7F7F" stroke-width="2.4"/>
<line x1="1446.0" y1="1877" x2="1446.0" y2="1889" stroke="#000" stroke-width="3.6"/>
<text x="1446.0" y="1915.5" text-anchor="middle" font-size="26" fill="#000">0</text>
<line x1="1672.2" y1="1877" x2="1672.2" y2="1889" stroke="#000" stroke-width="3.6"/>
<text x="1672.2" y="1915.5" text-anchor="middle" font-size="26" fill="#000">5</text>
<line x1="1898.4" y1="1877" x2="1898.4" y2="1889" stroke="#000" stroke-width="3.6"/>
<text x="1898.4" y="1915.5" text-anchor="middle" font-size="26" fill="#000">10</text>
<text x="1138" y="1948" text-anchor="middle" font-size="42.1" fill="#000">node strength</text>
<text x="49" y="2120" font-weight="bold" font-size="76" fill="#231F20">c</text>
<line x1="133.6" y1="2540.1" x2="324.9" y2="2540.1" stroke="#F4F4F4" stroke-width="2.5"/>
<line x1="133.6" y1="2353.7" x2="324.9" y2="2353.7" stroke="#F4F4F4" stroke-width="2.5"/>
<line x1="133.6" y1="2167.3" x2="324.9" y2="2167.3" stroke="#F4F4F4" stroke-width="2.5"/>
<line x1="133.6" y1="2633.3" x2="324.9" y2="2633.3" stroke="#E5E5E5" stroke-width="2"/>
<line x1="133.6" y1="2446.9" x2="324.9" y2="2446.9" stroke="#E5E5E5" stroke-width="2"/>
<line x1="133.6" y1="2260.5" x2="324.9" y2="2260.5" stroke="#E5E5E5" stroke-width="2"/>
<line x1="168.9" y1="2106.8" x2="168.9" y2="2642.8" stroke="#E5E5E5" stroke-width="2"/>
<line x1="229.2" y1="2106.8" x2="229.2" y2="2642.8" stroke="#E5E5E5" stroke-width="2"/>
<line x1="289.2" y1="2106.8" x2="289.2" y2="2642.8" stroke="#E5E5E5" stroke-width="2"/>
<line x1="156.9" y1="2303.4" x2="156.9" y2="2540.1" stroke="#333" stroke-width="4"/>
<rect x="144.9" y="2364.1" width="24.0" height="118.7" fill="#F8766D" stroke="#333" stroke-width="4.5" stroke-linejoin="round"/>
<line x1="144.9" y1="2440.9" x2="168.9" y2="2440.9" stroke="#333" stroke-width="6.5"/>
<line x1="180.9" y1="2273.5" x2="180.9" y2="2545.9" stroke="#333" stroke-width="4"/>
<rect x="168.9" y="2407.9" width="24.0" height="91.7" fill="#00BFC4" stroke="#333" stroke-width="4.5" stroke-linejoin="round"/>
<line x1="168.9" y1="2467.6" x2="192.9" y2="2467.6" stroke="#333" stroke-width="6.5"/>
<line x1="217.2" y1="2211.7" x2="217.2" y2="2531.0" stroke="#333" stroke-width="4"/>
<rect x="205.2" y="2342.0" width="24.0" height="110.5" fill="#F8766D" stroke="#333" stroke-width="4.5" stroke-linejoin="round"/>
<line x1="205.2" y1="2399.7" x2="229.2" y2="2399.7" stroke="#333" stroke-width="6.5"/>
<line x1="241.2" y1="2130.2" x2="241.2" y2="2534.3" stroke="#333" stroke-width="4"/>
<rect x="229.2" y="2328.2" width="24.0" height="146.5" fill="#00BFC4" stroke="#333" stroke-width="4.5" stroke-linejoin="round"/>
<line x1="229.2" y1="2393.2" x2="253.2" y2="2393.2" stroke="#333" stroke-width="6.5"/>
<line x1="277.2" y1="2243.7" x2="277.2" y2="2591.7" stroke="#333" stroke-width="4"/>
<rect x="265.2" y="2398.1" width="24.0" height="109.6" fill="#F8766D" stroke="#333" stroke-width="4.5" stroke-linejoin="round"/>
<line x1="265.2" y1="2474.7" x2="289.2" y2="2474.7" stroke="#333" stroke-width="6.5"/>
<line x1="301.2" y1="2416.9" x2="301.2" y2="2591.7" stroke="#333" stroke-width="4"/>
<rect x="289.2" y="2454.7" width="24.0" height="66.4" fill="#00BFC4" stroke="#333" stroke-width="4.5" stroke-linejoin="round"/>
<line x1="289.2" y1="2490.5" x2="313.2" y2="2490.5" stroke="#333" stroke-width="6.5"/>
<rect x="133.6" y="2106.8" width="191.29999999999998" height="536.0" fill="none" stroke="#7F7F7F" stroke-width="2.4"/>
<line x1="123.6" y1="2633.3" x2="133.6" y2="2633.3" stroke="#000" stroke-width="3.6"/>
<text x="118.6" y="2643.3" text-anchor="end" font-size="28" fill="#000" >1</text>
<line x1="123.6" y1="2446.9" x2="133.6" y2="2446.9" stroke="#000" stroke-width="3.6"/>
<text x="118.6" y="2456.9" text-anchor="end" font-size="28" fill="#000" >2</text>
<line x1="123.6" y1="2260.5" x2="133.6" y2="2260.5" stroke="#000" stroke-width="3.6"/>
<text x="118.6" y="2270.5" text-anchor="end" font-size="28" fill="#000" >3</text>
<line x1="168.9" y1="2642.8" x2="168.9" y2="2651.8" stroke="#000" stroke-width="3.6"/>
<line x1="229.2" y1="2642.8" x2="229.2" y2="2651.8" stroke="#000" stroke-width="3.6"/>
<line x1="289.2" y1="2642.8" x2="289.2" y2="2651.8" stroke="#000" stroke-width="3.6"/>
<text x="139.0" y="2680.0" text-anchor="middle" font-size="28" fill="#000" >P2–5</text>
<text x="220.0" y="2680.0" text-anchor="middle" font-size="28" fill="#000" >P8–9</text>
<text x="318.5" y="2680.0" text-anchor="middle" font-size="28" fill="#000" >P12–13</text>
<text x="84.0" y="2368.0" text-anchor="middle" font-size="41.9" fill="#000" transform="rotate(-90 84 2368)">avg path length</text>
<line x1="157.3" y1="2183" x2="216.7" y2="2183" stroke="#000" stroke-width="2"/>
<line x1="157.3" y1="2177" x2="157.3" y2="2189" stroke="#000" stroke-width="2"/>
<line x1="216.7" y1="2177" x2="216.7" y2="2189" stroke="#000" stroke-width="2"/>
<text x="186.3" y="2181.0" text-anchor="middle" font-size="26" fill="#000" >ns</text>
<line x1="156.7" y1="2158" x2="276.4" y2="2158" stroke="#000" stroke-width="2"/>
<line x1="156.7" y1="2152" x2="156.7" y2="2164" stroke="#000" stroke-width="2"/>
<line x1="276.4" y1="2152" x2="276.4" y2="2164" stroke="#000" stroke-width="2"/>
<text x="215.0" y="2155.0" text-anchor="middle" font-size="26" fill="#000" >ns</text>
<line x1="217.7" y1="2126" x2="277" y2="2126" stroke="#000" stroke-width="2"/>
<line x1="217.7" y1="2120" x2="217.7" y2="2132" stroke="#000" stroke-width="2"/>
<line x1="277" y1="2120" x2="277" y2="2132" stroke="#000" stroke-width="2"/>
<text x="249.0" y="2123.0" text-anchor="middle" font-size="26" fill="#000" >ns</text>
<text x="173.8" y="2270.0" text-anchor="middle" font-size="26" fill="#000" >ns</text>
<text x="227.6" y="2211.0" text-anchor="middle" font-size="26" fill="#000" >ns</text>
<text x="286.3" y="2240.0" text-anchor="middle" font-size="26" fill="#000" >ns</text>
<line x1="355" y1="2113" x2="355" y2="2153" stroke="#333" stroke-width="3.5"/>
<rect x="337" y="2121" width="36" height="24" fill="#F8766D" stroke="#333" stroke-width="4.5" stroke-linejoin="round"/>
<line x1="337" y1="2133" x2="373" y2="2133" stroke="#333" stroke-width="4"/>
<text x="384.0" y="2143.0" text-anchor="start" font-size="30" fill="#000" >obs</text>
<line x1="355" y1="2159" x2="355" y2="2199" stroke="#333" stroke-width="3.5"/>
<rect x="337" y="2167" width="36" height="24" fill="#00BFC4" stroke="#333" stroke-width="4.5" stroke-linejoin="round"/>
<line x1="337" y1="2179" x2="373" y2="2179" stroke="#333" stroke-width="4"/>
<text x="384.0" y="2189.0" text-anchor="start" font-size="30" fill="#000" >rand</text>
<line x1="520.1" y1="2581.5" x2="708.1" y2="2581.5" stroke="#F4F4F4" stroke-width="2.5"/>
<line x1="520.1" y1="2444.2" x2="708.1" y2="2444.2" stroke="#F4F4F4" stroke-width="2.5"/>
<line x1="520.1" y1="2307.0" x2="708.1" y2="2307.0" stroke="#F4F4F4" stroke-width="2.5"/>
<line x1="520.1" y1="2169.7" x2="708.1" y2="2169.7" stroke="#F4F4F4" stroke-width="2.5"/>
<line x1="520.1" y1="2512.8" x2="708.1" y2="2512.8" stroke="#E5E5E5" stroke-width="2"/>
<line x1="520.1" y1="2375.6" x2="708.1" y2="2375.6" stroke="#E5E5E5" stroke-width="2"/>
<line x1="520.1" y1="2238.3" x2="708.1" y2="2238.3" stroke="#E5E5E5" stroke-width="2"/>
<line x1="554.8" y1="2106.8" x2="554.8" y2="2642.8" stroke="#E5E5E5" stroke-width="2"/>
<line x1="614.1" y1="2106.8" x2="614.1" y2="2642.8" stroke="#E5E5E5" stroke-width="2"/>
<line x1="673.5" y1="2106.8" x2="673.5" y2="2642.8" stroke="#E5E5E5" stroke-width="2"/>
<line x1="543.3" y1="2221.9" x2="543.3" y2="2516.8" stroke="#333" stroke-width="4"/>
<rect x="531.3" y="2281.8" width="24.0" height="129.5" fill="#F8766D" stroke="#333" stroke-width="4.5" stroke-linejoin="round"/>
<line x1="531.3" y1="2350.4" x2="555.3" y2="2350.4" stroke="#333" stroke-width="6.5"/>
<line x1="566.3" y1="2254.8" x2="566.3" y2="2605.6" stroke="#333" stroke-width="4"/>
<rect x="554.3" y="2361.9" width="24.0" height="174.0" fill="#00BFC4" stroke="#333" stroke-width="4.5" stroke-linejoin="round"/>
<line x1="554.3" y1="2460.1" x2="578.3" y2="2460.1" stroke="#333" stroke-width="6.5"/>
<line x1="602.6" y1="2276.2" x2="602.6" y2="2485.4" stroke="#333" stroke-width="4"/>
<rect x="590.6" y="2357.5" width="24.0" height="62.0" fill="#F8766D" stroke="#333" stroke-width="4.5" stroke-linejoin="round"/>
<line x1="590.6" y1="2379.4" x2="614.6" y2="2379.4" stroke="#333" stroke-width="6.5"/>
<line x1="625.6" y1="2327.8" x2="625.6" y2="2617.2" stroke="#333" stroke-width="4"/>
<rect x="613.6" y="2444.2" width="24.0" height="127.6" fill="#00BFC4" stroke="#333" stroke-width="4.5" stroke-linejoin="round"/>
<line x1="613.6" y1="2529.9" x2="637.6" y2="2529.9" stroke="#333" stroke-width="6.5"/>
<line x1="662.0" y1="2165.9" x2="662.0" y2="2417.9" stroke="#333" stroke-width="4"/>
<rect x="650.0" y="2237.3" width="24.0" height="89.5" fill="#F8766D" stroke="#333" stroke-width="4.5" stroke-linejoin="round"/>
<line x1="650.0" y1="2282.8" x2="674.0" y2="2282.8" stroke="#333" stroke-width="6.5"/>
<line x1="685.0" y1="2185.6" x2="685.0" y2="2603.4" stroke="#333" stroke-width="4"/>
<rect x="673.0" y="2336.6" width="24.0" height="127.4" fill="#00BFC4" stroke="#333" stroke-width="4.5" stroke-linejoin="round"/>
<line x1="673.0" y1="2388.2" x2="697.0" y2="2388.2" stroke="#333" stroke-width="6.5"/>
<rect x="520.1" y="2106.8" width="188.0" height="536.0" fill="none" stroke="#7F7F7F" stroke-width="2.4"/>
<line x1="510.1" y1="2512.8" x2="520.1" y2="2512.8" stroke="#000" stroke-width="3.6"/>
<text x="504.1" y="2522.8" text-anchor="end" font-size="28" fill="#000" >0.25</text>
<line x1="510.1" y1="2375.6" x2="520.1" y2="2375.6" stroke="#000" stroke-width="3.6"/>
<text x="504.1" y="2385.6" text-anchor="end" font-size="28" fill="#000" >0.50</text>
<line x1="510.1" y1="2238.3" x2="520.1" y2="2238.3" stroke="#000" stroke-width="3.6"/>
<text x="504.1" y="2248.3" text-anchor="end" font-size="28" fill="#000" >0.75</text>
<line x1="554.8" y1="2642.8" x2="554.8" y2="2651.8" stroke="#000" stroke-width="3.6"/>
<line x1="614.1" y1="2642.8" x2="614.1" y2="2651.8" stroke="#000" stroke-width="3.6"/>
<line x1="673.5" y1="2642.8" x2="673.5" y2="2651.8" stroke="#000" stroke-width="3.6"/>
<text x="524.7" y="2682.0" text-anchor="middle" font-size="28" fill="#000" >P2–5</text>
<text x="606.0" y="2682.0" text-anchor="middle" font-size="28" fill="#000" >P8–9</text>
<text x="703.0" y="2682.0" text-anchor="middle" font-size="28" fill="#000" >P12–13</text>
<text x="434.5" y="2421.0" text-anchor="middle" font-size="41.8" fill="#000" transform="rotate(-90 434.5 2421)">clustering coefficient</text>
<line x1="543.9" y1="2183" x2="602.6" y2="2183" stroke="#000" stroke-width="2"/>
<line x1="543.9" y1="2177" x2="543.9" y2="2189" stroke="#000" stroke-width="2"/>
<line x1="602.6" y1="2177" x2="602.6" y2="2189" stroke="#000" stroke-width="2"/>
<text x="573.0" y="2181.0" text-anchor="middle" font-size="26" fill="#000" >ns</text>
<line x1="543.9" y1="2145" x2="662" y2="2145" stroke="#000" stroke-width="2"/>
<line x1="543.9" y1="2139" x2="543.9" y2="2151" stroke="#000" stroke-width="2"/>
<line x1="662" y1="2139" x2="662" y2="2151" stroke="#000" stroke-width="2"/>
<text x="606.5" y="2160.0" text-anchor="middle" font-size="38" fill="#000" >*</text>
<line x1="602.6" y1="2121" x2="662" y2="2121" stroke="#000" stroke-width="2"/>
<line x1="602.6" y1="2115" x2="602.6" y2="2127" stroke="#000" stroke-width="2"/>
<line x1="662" y1="2115" x2="662" y2="2127" stroke="#000" stroke-width="2"/>
<text x="631.3" y="2137.0" text-anchor="middle" font-size="38" fill="#000" >***</text>
<text x="555.8" y="2230.0" text-anchor="middle" font-size="38" fill="#000" >**</text>
<text x="613.5" y="2284.0" text-anchor="middle" font-size="38" fill="#000" >***</text>
<text x="671.8" y="2178.0" text-anchor="middle" font-size="38" fill="#000" >***</text>
<text x="769" y="2118" font-weight="bold" font-size="76" fill="#231F20">d</text>
<text x="1065.0" y="2158.0" text-anchor="middle" font-size="51" fill="#000" >P2–5</text>
<line x1="910" y1="2484.2" x2="1253" y2="2484.2" stroke="#E5E5E5" stroke-width="2"/>
<line x1="910" y1="2412.5" x2="1253" y2="2412.5" stroke="#E5E5E5" stroke-width="2"/>
<line x1="910" y1="2340.8" x2="1253" y2="2340.8" stroke="#E5E5E5" stroke-width="2"/>
<line x1="910" y1="2269.1" x2="1253" y2="2269.1" stroke="#E5E5E5" stroke-width="2"/>
<line x1="910" y1="2197.4" x2="1253" y2="2197.4" stroke="#E5E5E5" stroke-width="2"/>
<line x1="910.8" y1="2180" x2="910.8" y2="2522.5" stroke="#E5E5E5" stroke-width="2"/>
<line x1="1002.5" y1="2180" x2="1002.5" y2="2522.5" stroke="#E5E5E5" stroke-width="2"/>
<line x1="1094.1" y1="2180" x2="1094.1" y2="2522.5" stroke="#E5E5E5" stroke-width="2"/>
<line x1="1185.8" y1="2180" x2="1185.8" y2="2522.5" stroke="#E5E5E5" stroke-width="2"/>
<circle cx="929.6" cy="2450.9" r="11.3" fill="#7F7F7F" fill-opacity="0.95"/>
<circle cx="951.6" cy="2417.9" r="11.3" fill="#7F7F7F" fill-opacity="0.95"/>
<circle cx="992.4" cy="2394.4" r="11.3" fill="#7F7F7F" fill-opacity="0.95"/>
<circle cx="1006.0" cy="2368.3" r="11.3" fill="#7F7F7F" fill-opacity="0.95"/>
<circle cx="1037.4" cy="2361.2" r="11.3" fill="#7F7F7F" fill-opacity="0.95"/>
<circle cx="1014.0" cy="2417.9" r="11.3" fill="#7F7F7F" fill-opacity="0.95"/>
<circle cx="1017.0" cy="2421.8" r="11.3" fill="#7F7F7F" fill-opacity="0.95"/>
<circle cx="1048.7" cy="2408.1" r="11.3" fill="#7F7F7F" fill-opacity="0.95"/>
<circle cx="1062.1" cy="2371.8" r="11.3" fill="#7F7F7F" fill-opacity="0.95"/>
<circle cx="1061.0" cy="2390.8" r="11.3" fill="#7F7F7F" fill-opacity="0.95"/>
<circle cx="1076.1" cy="2388.1" r="11.3" fill="#7F7F7F" fill-opacity="0.95"/>
<circle cx="1176.7" cy="2347.3" r="11.3" fill="#7F7F7F" fill-opacity="0.95"/>
<circle cx="1189.4" cy="2285.6" r="11.3" fill="#7F7F7F" fill-opacity="0.95"/>
<circle cx="1211.1" cy="2229.7" r="11.3" fill="#7F7F7F" fill-opacity="0.95"/>
<line x1="929.6" y1="2437.8" x2="929.6" y2="2464.7" stroke="#555" stroke-width="4.4"/>
<line x1="921.8" y1="2450.9" x2="936.5" y2="2450.9" stroke="#555" stroke-width="4.4"/>
<line x1="951.6" y1="2403.8" x2="951.6" y2="2433.1" stroke="#555" stroke-width="4.4"/>
<line x1="943.8" y1="2417.9" x2="958.5" y2="2417.9" stroke="#555" stroke-width="4.4"/>
<line x1="992.4" y1="2362.3" x2="992.4" y2="2428.3" stroke="#555" stroke-width="4.4"/>
<line x1="984.1" y1="2394.4" x2="1000.6" y2="2394.4" stroke="#555" stroke-width="4.4"/>
<line x1="1006.0" y1="2345.1" x2="1006.0" y2="2391.7" stroke="#555" stroke-width="4.4"/>
<line x1="991.7" y1="2368.3" x2="1020.3" y2="2368.3" stroke="#555" stroke-width="4.4"/>
<line x1="1037.4" y1="2337.6" x2="1037.4" y2="2384.5" stroke="#555" stroke-width="4.4"/>
<line x1="1022.8" y1="2361.2" x2="1052.1" y2="2361.2" stroke="#555" stroke-width="4.4"/>
<line x1="1014.0" y1="2404.6" x2="1014.0" y2="2432.6" stroke="#555" stroke-width="4.4"/>
<line x1="1003.0" y1="2417.9" x2="1024.5" y2="2417.9" stroke="#555" stroke-width="4.4"/>
<line x1="1017.0" y1="2405.7" x2="1017.0" y2="2440.1" stroke="#555" stroke-width="4.4"/>
<line x1="1009.8" y1="2421.8" x2="1031.7" y2="2421.8" stroke="#555" stroke-width="4.4"/>
<line x1="1048.7" y1="2395.6" x2="1048.7" y2="2422.4" stroke="#555" stroke-width="4.4"/>
<line x1="1036.6" y1="2408.1" x2="1057.5" y2="2408.1" stroke="#555" stroke-width="4.4"/>
<line x1="1062.1" y1="2348.0" x2="1062.1" y2="2394.6" stroke="#555" stroke-width="4.4"/>
<line x1="1046.9" y1="2371.8" x2="1075.8" y2="2371.8" stroke="#555" stroke-width="4.4"/>
<line x1="1061.0" y1="2373.1" x2="1061.0" y2="2410.5" stroke="#555" stroke-width="4.4"/>
<line x1="1046.3" y1="2390.8" x2="1068.5" y2="2390.8" stroke="#555" stroke-width="4.4"/>
<line x1="1076.1" y1="2370.0" x2="1076.1" y2="2406.3" stroke="#555" stroke-width="4.4"/>
<line x1="1068.5" y1="2388.1" x2="1095.1" y2="2388.1" stroke="#555" stroke-width="4.4"/>
<line x1="1176.7" y1="2324.8" x2="1176.7" y2="2372.3" stroke="#555" stroke-width="4.4"/>
<line x1="1169.3" y1="2347.3" x2="1184.0" y2="2347.3" stroke="#555" stroke-width="4.4"/>
<line x1="1189.4" y1="2253.0" x2="1189.4" y2="2320.3" stroke="#555" stroke-width="4.4"/>
<line x1="1173.6" y1="2285.6" x2="1204.2" y2="2285.6" stroke="#555" stroke-width="4.4"/>
<line x1="1211.1" y1="2197.4" x2="1211.1" y2="2261.9" stroke="#555" stroke-width="4.4"/>
<line x1="1199.0" y1="2229.7" x2="1222.9" y2="2229.7" stroke="#555" stroke-width="4.4"/>
<circle cx="929.6" cy="2450.9" r="7.8" fill="#D3A4B8"/>
<circle cx="951.6" cy="2417.9" r="7.8" fill="#377EB8"/>
<circle cx="992.4" cy="2394.4" r="7.8" fill="#FFA852"/>
<circle cx="1006.0" cy="2368.3" r="7.8" fill="#984EA3"/>
<circle cx="1037.4" cy="2361.2" r="7.8" fill="#E8928A"/>
<circle cx="1014.0" cy="2417.9" r="7.8" fill="#A65628"/>
<circle cx="1017.0" cy="2421.8" r="7.8" fill="#4DAF4A"/>
<circle cx="1048.7" cy="2408.1" r="7.8" fill="#C8C8C8"/>
<circle cx="1062.1" cy="2371.8" r="7.8" fill="#A6CEE3"/>
<circle cx="1061.0" cy="2390.8" r="7.8" fill="#66A891"/>
<circle cx="1076.1" cy="2388.1" r="7.8" fill="#80C868"/>
<circle cx="1176.7" cy="2347.3" r="7.8" fill="#FFFF33"/>
<circle cx="1189.4" cy="2285.6" r="7.8" fill="#FF7F00"/>
<circle cx="1211.1" cy="2229.7" r="7.8" fill="#E41A1C"/>
<line x1="930.2" y1="2449.8" x2="1211.1" y2="2283.4" stroke="#000" stroke-width="4"/>
<rect x="910" y="2180" width="343" height="342.5" fill="none" stroke="#7F7F7F" stroke-width="2.4"/>
<line x1="910.8" y1="2522.5" x2="910.8" y2="2537.5" stroke="#000" stroke-width="3.6"/>
<text x="910.8" y="2575.5" text-anchor="middle" font-size="36.5" fill="#000" >0.00</text>
<line x1="1002.5" y1="2522.5" x2="1002.5" y2="2537.5" stroke="#000" stroke-width="3.6"/>
<text x="1002.5" y="2575.5" text-anchor="middle" font-size="36.5" fill="#000" >0.25</text>
<line x1="1094.1" y1="2522.5" x2="1094.1" y2="2537.5" stroke="#000" stroke-width="3.6"/>
<text x="1094.1" y="2575.5" text-anchor="middle" font-size="36.5" fill="#000" >0.50</text>
<line x1="1185.8" y1="2522.5" x2="1185.8" y2="2537.5" stroke="#000" stroke-width="3.6"/>
<text x="1185.8" y="2575.5" text-anchor="middle" font-size="36.5" fill="#000" >0.75</text>
<line x1="894" y1="2484.2" x2="910" y2="2484.2" stroke="#000" stroke-width="3.6"/>
<text x="883.0" y="2498.2" text-anchor="end" font-size="36.5" fill="#000" >0</text>
<line x1="894" y1="2412.5" x2="910" y2="2412.5" stroke="#000" stroke-width="3.6"/>
<text x="883.0" y="2426.5" text-anchor="end" font-size="36.5" fill="#000" >10</text>
<line x1="894" y1="2340.8" x2="910" y2="2340.8" stroke="#000" stroke-width="3.6"/>
<text x="883.0" y="2354.8" text-anchor="end" font-size="36.5" fill="#000" >20</text>
<line x1="894" y1="2269.1" x2="910" y2="2269.1" stroke="#000" stroke-width="3.6"/>
<text x="883.0" y="2283.1" text-anchor="end" font-size="36.5" fill="#000" >30</text>
<line x1="894" y1="2197.4" x2="910" y2="2197.4" stroke="#000" stroke-width="3.6"/>
<text x="883.0" y="2211.4" text-anchor="end" font-size="36.5" fill="#000" >40</text>
<text x="1445.8" y="2158.0" text-anchor="middle" font-size="51" fill="#000" >P8–9</text>
<line x1="1267.7" y1="2484.2" x2="1611" y2="2484.2" stroke="#E5E5E5" stroke-width="2"/>
<line x1="1267.7" y1="2412.5" x2="1611" y2="2412.5" stroke="#E5E5E5" stroke-width="2"/>
<line x1="1267.7" y1="2340.8" x2="1611" y2="2340.8" stroke="#E5E5E5" stroke-width="2"/>
<line x1="1267.7" y1="2269.1" x2="1611" y2="2269.1" stroke="#E5E5E5" stroke-width="2"/>
<line x1="1267.7" y1="2197.4" x2="1611" y2="2197.4" stroke="#E5E5E5" stroke-width="2"/>
<line x1="1268.8" y1="2180" x2="1268.8" y2="2522.5" stroke="#E5E5E5" stroke-width="2"/>
<line x1="1360.5" y1="2180" x2="1360.5" y2="2522.5" stroke="#E5E5E5" stroke-width="2"/>
<line x1="1452.1" y1="2180" x2="1452.1" y2="2522.5" stroke="#E5E5E5" stroke-width="2"/>
<line x1="1543.8" y1="2180" x2="1543.8" y2="2522.5" stroke="#E5E5E5" stroke-width="2"/>
<circle cx="1286.1" cy="2465.2" r="11.3" fill="#7F7F7F" fill-opacity="0.95"/>
<circle cx="1306.6" cy="2463.9" r="11.3" fill="#7F7F7F" fill-opacity="0.95"/>
<circle cx="1347.3" cy="2388.8" r="11.3" fill="#7F7F7F" fill-opacity="0.95"/>
<circle cx="1334.3" cy="2412.1" r="11.3" fill="#7F7F7F" fill-opacity="0.95"/>
<circle cx="1337.7" cy="2419.7" r="11.3" fill="#7F7F7F" fill-opacity="0.95"/>
<circle cx="1349.8" cy="2426.4" r="11.3" fill="#7F7F7F" fill-opacity="0.95"/>
<circle cx="1380.9" cy="2382.5" r="11.3" fill="#7F7F7F" fill-opacity="0.95"/>
<circle cx="1396.7" cy="2396.7" r="11.3" fill="#7F7F7F" fill-opacity="0.95"/>
<circle cx="1391.9" cy="2464.5" r="11.3" fill="#7F7F7F" fill-opacity="0.95"/>
<circle cx="1466.4" cy="2408.0" r="11.3" fill="#7F7F7F" fill-opacity="0.95"/>
<circle cx="1420.7" cy="2325.7" r="11.3" fill="#7F7F7F" fill-opacity="0.95"/>
<circle cx="1438.7" cy="2287.7" r="11.3" fill="#7F7F7F" fill-opacity="0.95"/>
<circle cx="1510.0" cy="2294.6" r="11.3" fill="#7F7F7F" fill-opacity="0.95"/>
<circle cx="1528.2" cy="2270.0" r="11.3" fill="#7F7F7F" fill-opacity="0.95"/>
<line x1="1286.1" y1="2460.5" x2="1286.1" y2="2469.9" stroke="#555" stroke-width="4.4"/>
<line x1="1279.8" y1="2465.2" x2="1292.6" y2="2465.2" stroke="#555" stroke-width="4.4"/>
<line x1="1306.6" y1="2459.1" x2="1306.6" y2="2469.9" stroke="#555" stroke-width="4.4"/>
<line x1="1300.0" y1="2463.9" x2="1312.8" y2="2463.9" stroke="#555" stroke-width="4.4"/>
<line x1="1347.3" y1="2375.2" x2="1347.3" y2="2402.8" stroke="#555" stroke-width="4.4"/>
<line x1="1340.3" y1="2388.8" x2="1354.2" y2="2388.8" stroke="#555" stroke-width="4.4"/>
<line x1="1334.3" y1="2400.3" x2="1334.3" y2="2424.0" stroke="#555" stroke-width="4.4"/>
<line x1="1327.5" y1="2412.1" x2="1342.1" y2="2412.1" stroke="#555" stroke-width="4.4"/>
<line x1="1337.7" y1="2408.9" x2="1337.7" y2="2436.5" stroke="#555" stroke-width="4.4"/>
<line x1="1331.1" y1="2419.7" x2="1344.0" y2="2419.7" stroke="#555" stroke-width="4.4"/>
<line x1="1349.8" y1="2413.2" x2="1349.8" y2="2441.2" stroke="#555" stroke-width="4.4"/>
<line x1="1342.1" y1="2426.4" x2="1356.8" y2="2426.4" stroke="#555" stroke-width="4.4"/>
<line x1="1380.9" y1="2370.2" x2="1380.9" y2="2391.0" stroke="#555" stroke-width="4.4"/>
<line x1="1371.5" y1="2382.5" x2="1388.0" y2="2382.5" stroke="#555" stroke-width="4.4"/>
<line x1="1396.7" y1="2384.5" x2="1396.7" y2="2415.0" stroke="#555" stroke-width="4.4"/>
<line x1="1380.3" y1="2396.7" x2="1413.3" y2="2396.7" stroke="#555" stroke-width="4.4"/>
<line x1="1391.9" y1="2459.1" x2="1391.9" y2="2469.9" stroke="#555" stroke-width="4.4"/>
<line x1="1379.2" y1="2464.5" x2="1412.9" y2="2464.5" stroke="#555" stroke-width="4.4"/>
<line x1="1466.4" y1="2390.3" x2="1466.4" y2="2426.8" stroke="#555" stroke-width="4.4"/>
<line x1="1449.5" y1="2408.0" x2="1484.3" y2="2408.0" stroke="#555" stroke-width="4.4"/>
<line x1="1420.7" y1="2305.7" x2="1420.7" y2="2347.5" stroke="#555" stroke-width="4.4"/>
<line x1="1408.0" y1="2325.7" x2="1436.4" y2="2325.7" stroke="#555" stroke-width="4.4"/>
<line x1="1438.7" y1="2262.2" x2="1438.7" y2="2313.9" stroke="#555" stroke-width="4.4"/>
<line x1="1426.3" y1="2287.7" x2="1455.7" y2="2287.7" stroke="#555" stroke-width="4.4"/>
<line x1="1510.0" y1="2273.2" x2="1510.0" y2="2317.0" stroke="#555" stroke-width="4.4"/>
<line x1="1494.9" y1="2294.6" x2="1525.7" y2="2294.6" stroke="#555" stroke-width="4.4"/>
<line x1="1528.2" y1="2252.4" x2="1528.2" y2="2288.0" stroke="#555" stroke-width="4.4"/>
<line x1="1512.4" y1="2270.0" x2="1544.6" y2="2270.0" stroke="#555" stroke-width="4.4"/>
<circle cx="1286.1" cy="2465.2" r="7.8" fill="#FFA852"/>
<circle cx="1306.6" cy="2463.9" r="7.8" fill="#D3A4B8"/>
<circle cx="1347.3" cy="2388.8" r="7.8" fill="#984EA3"/>
<circle cx="1334.3" cy="2412.1" r="7.8" fill="#377EB8"/>
<circle cx="1337.7" cy="2419.7" r="7.8" fill="#66A891"/>
<circle cx="1349.8" cy="2426.4" r="7.8" fill="#A65628"/>
<circle cx="1380.9" cy="2382.5" r="7.8" fill="#C8C8C8"/>
<circle cx="1396.7" cy="2396.7" r="7.8" fill="#80C868"/>
<circle cx="1391.9" cy="2464.5" r="7.8" fill="#4DAF4A"/>
<circle cx="1466.4" cy="2408.0" r="7.8" fill="#FF7F00"/>
<circle cx="1420.7" cy="2325.7" r="7.8" fill="#A6CEE3"/>
<circle cx="1438.7" cy="2287.7" r="7.8" fill="#E8928A"/>
<circle cx="1510.0" cy="2294.6" r="7.8" fill="#FFFF33"/>
<circle cx="1528.2" cy="2270.0" r="7.8" fill="#E41A1C"/>
<line x1="1287.0" y1="2463.9" x2="1528.6" y2="2287.5" stroke="#000" stroke-width="4"/>
<rect x="1267.7" y="2180" width="343.29999999999995" height="342.5" fill="none" stroke="#7F7F7F" stroke-width="2.4"/>
<line x1="1268.8" y1="2522.5" x2="1268.8" y2="2537.5" stroke="#000" stroke-width="3.6"/>
<text x="1268.8" y="2575.5" text-anchor="middle" font-size="36.5" fill="#000" >0.00</text>
<line x1="1360.5" y1="2522.5" x2="1360.5" y2="2537.5" stroke="#000" stroke-width="3.6"/>
<text x="1360.5" y="2575.5" text-anchor="middle" font-size="36.5" fill="#000" >0.25</text>
<line x1="1452.1" y1="2522.5" x2="1452.1" y2="2537.5" stroke="#000" stroke-width="3.6"/>
<text x="1452.1" y="2575.5" text-anchor="middle" font-size="36.5" fill="#000" >0.50</text>
<line x1="1543.8" y1="2522.5" x2="1543.8" y2="2537.5" stroke="#000" stroke-width="3.6"/>
<text x="1543.8" y="2575.5" text-anchor="middle" font-size="36.5" fill="#000" >0.75</text>
<text x="1805.5" y="2158.0" text-anchor="middle" font-size="51" fill="#000" >P12–13</text>
<line x1="1625.4" y1="2484.2" x2="1968" y2="2484.2" stroke="#E5E5E5" stroke-width="2"/>
<line x1="1625.4" y1="2412.5" x2="1968" y2="2412.5" stroke="#E5E5E5" stroke-width="2"/>
<line x1="1625.4" y1="2340.8" x2="1968" y2="2340.8" stroke="#E5E5E5" stroke-width="2"/>
<line x1="1625.4" y1="2269.1" x2="1968" y2="2269.1" stroke="#E5E5E5" stroke-width="2"/>
<line x1="1625.4" y1="2197.4" x2="1968" y2="2197.4" stroke="#E5E5E5" stroke-width="2"/>
<line x1="1626.4" y1="2180" x2="1626.4" y2="2522.5" stroke="#E5E5E5" stroke-width="2"/>
<line x1="1718.1" y1="2180" x2="1718.1" y2="2522.5" stroke="#E5E5E5" stroke-width="2"/>
<line x1="1809.8" y1="2180" x2="1809.8" y2="2522.5" stroke="#E5E5E5" stroke-width="2"/>
<line x1="1901.4" y1="2180" x2="1901.4" y2="2522.5" stroke="#E5E5E5" stroke-width="2"/>
<circle cx="1652.3" cy="2440.5" r="11.3" fill="#7F7F7F" fill-opacity="0.95"/>
<circle cx="1710.8" cy="2398.5" r="11.3" fill="#7F7F7F" fill-opacity="0.95"/>
<circle cx="1726.5" cy="2388.6" r="11.3" fill="#7F7F7F" fill-opacity="0.95"/>
<circle cx="1733.1" cy="2395.8" r="11.3" fill="#7F7F7F" fill-opacity="0.95"/>
<circle cx="1743.3" cy="2366.0" r="11.3" fill="#7F7F7F" fill-opacity="0.95"/>
<circle cx="1761.6" cy="2394.9" r="11.3" fill="#7F7F7F" fill-opacity="0.95"/>
<circle cx="1798.7" cy="2407.5" r="11.3" fill="#7F7F7F" fill-opacity="0.95"/>
<circle cx="1804.1" cy="2396.7" r="11.3" fill="#7F7F7F" fill-opacity="0.95"/>
<circle cx="1829.6" cy="2380.7" r="11.3" fill="#7F7F7F" fill-opacity="0.95"/>
<circle cx="1842.5" cy="2404.3" r="11.3" fill="#7F7F7F" fill-opacity="0.95"/>
<circle cx="1847.5" cy="2335.8" r="11.3" fill="#7F7F7F" fill-opacity="0.95"/>
<circle cx="1931.5" cy="2313.6" r="11.3" fill="#7F7F7F" fill-opacity="0.95"/>
<circle cx="1927.8" cy="2297.1" r="11.3" fill="#7F7F7F" fill-opacity="0.95"/>
<line x1="1652.3" y1="2434.0" x2="1652.3" y2="2448.3" stroke="#555" stroke-width="4.4"/>
<line x1="1644.7" y1="2440.5" x2="1659.4" y2="2440.5" stroke="#555" stroke-width="4.4"/>
<line x1="1710.8" y1="2381.7" x2="1710.8" y2="2417.2" stroke="#555" stroke-width="4.4"/>
<line x1="1703.4" y1="2398.5" x2="1718.1" y2="2398.5" stroke="#555" stroke-width="4.4"/>
<line x1="1726.5" y1="2378.1" x2="1726.5" y2="2398.2" stroke="#555" stroke-width="4.4"/>
<line x1="1718.1" y1="2388.6" x2="1732.7" y2="2388.6" stroke="#555" stroke-width="4.4"/>
<line x1="1733.1" y1="2380.2" x2="1733.1" y2="2412.9" stroke="#555" stroke-width="4.4"/>
<line x1="1725.4" y1="2395.8" x2="1740.1" y2="2395.8" stroke="#555" stroke-width="4.4"/>
<line x1="1743.3" y1="2342.2" x2="1743.3" y2="2389.6" stroke="#555" stroke-width="4.4"/>
<line x1="1736.4" y1="2366.0" x2="1751.1" y2="2366.0" stroke="#555" stroke-width="4.4"/>
<line x1="1761.6" y1="2378.1" x2="1761.6" y2="2412.9" stroke="#555" stroke-width="4.4"/>
<line x1="1752.9" y1="2394.9" x2="1769.4" y2="2394.9" stroke="#555" stroke-width="4.4"/>
<line x1="1798.7" y1="2394.6" x2="1798.7" y2="2420.8" stroke="#555" stroke-width="4.4"/>
<line x1="1791.4" y1="2407.5" x2="1806.1" y2="2407.5" stroke="#555" stroke-width="4.4"/>
<line x1="1804.1" y1="2378.8" x2="1804.1" y2="2408.9" stroke="#555" stroke-width="4.4"/>
<line x1="1796.9" y1="2396.7" x2="1811.6" y2="2396.7" stroke="#555" stroke-width="4.4"/>
<line x1="1829.6" y1="2367.3" x2="1829.6" y2="2396.0" stroke="#555" stroke-width="4.4"/>
<line x1="1816.7" y1="2380.7" x2="1842.6" y2="2380.7" stroke="#555" stroke-width="4.4"/>
<line x1="1842.5" y1="2387.4" x2="1842.5" y2="2421.8" stroke="#555" stroke-width="4.4"/>
<line x1="1829.9" y1="2404.3" x2="1855.2" y2="2404.3" stroke="#555" stroke-width="4.4"/>
<line x1="1847.5" y1="2312.8" x2="1847.5" y2="2355.1" stroke="#555" stroke-width="4.4"/>
<line x1="1836.2" y1="2335.8" x2="1859.6" y2="2335.8" stroke="#555" stroke-width="4.4"/>
<line x1="1931.5" y1="2305.1" x2="1931.5" y2="2336.1" stroke="#555" stroke-width="4.4"/>
<line x1="1925.3" y1="2313.6" x2="1938.1" y2="2313.6" stroke="#555" stroke-width="4.4"/>
<line x1="1927.8" y1="2278.0" x2="1927.8" y2="2312.8" stroke="#555" stroke-width="4.4"/>
<line x1="1921.6" y1="2297.1" x2="1934.4" y2="2297.1" stroke="#555" stroke-width="4.4"/>
<circle cx="1652.3" cy="2440.5" r="7.8" fill="#D3A4B8"/>
<circle cx="1710.8" cy="2398.5" r="7.8" fill="#66A891"/>
<circle cx="1726.5" cy="2388.6" r="7.8" fill="#C8C8C8"/>
<circle cx="1733.1" cy="2395.8" r="7.8" fill="#80C868"/>
<circle cx="1743.3" cy="2366.0" r="7.8" fill="#FFA852"/>
<circle cx="1761.6" cy="2394.9" r="7.8" fill="#4DAF4A"/>
<circle cx="1798.7" cy="2407.5" r="7.8" fill="#FF7F00"/>
<circle cx="1804.1" cy="2396.7" r="7.8" fill="#377EB8"/>
<circle cx="1829.6" cy="2380.7" r="7.8" fill="#984EA3"/>
<circle cx="1842.5" cy="2404.3" r="7.8" fill="#A6CEE3"/>
<circle cx="1847.5" cy="2335.8" r="7.8" fill="#E8928A"/>
<circle cx="1931.5" cy="2313.6" r="7.8" fill="#FFFF33"/>
<circle cx="1927.8" cy="2297.1" r="7.8" fill="#E41A1C"/>
<line x1="1652.7" y1="2434.3" x2="1930.8" y2="2323.6" stroke="#000" stroke-width="4"/>
<rect x="1625.4" y="2180" width="342.5999999999999" height="342.5" fill="none" stroke="#7F7F7F" stroke-width="2.4"/>
<line x1="1626.4" y1="2522.5" x2="1626.4" y2="2537.5" stroke="#000" stroke-width="3.6"/>
<text x="1626.4" y="2575.5" text-anchor="middle" font-size="36.5" fill="#000" >0.00</text>
<line x1="1718.1" y1="2522.5" x2="1718.1" y2="2537.5" stroke="#000" stroke-width="3.6"/>
<text x="1718.1" y="2575.5" text-anchor="middle" font-size="36.5" fill="#000" >0.25</text>
<line x1="1809.8" y1="2522.5" x2="1809.8" y2="2537.5" stroke="#000" stroke-width="3.6"/>
<text x="1809.8" y="2575.5" text-anchor="middle" font-size="36.5" fill="#000" >0.50</text>
<line x1="1901.4" y1="2522.5" x2="1901.4" y2="2537.5" stroke="#000" stroke-width="3.6"/>
<text x="1901.4" y="2575.5" text-anchor="middle" font-size="36.5" fill="#000" >0.75</text>
<text x="1440.0" y="2632.0" text-anchor="middle" font-size="41.6" fill="#000" >eigenvector centrality</text>
<text x="827.0" y="2360.0" text-anchor="middle" font-size="41.6" fill="#000" transform="rotate(-90 827 2360)">betweenness centrality</text>
<circle cx="1988.6" cy="2187.6" r="5.6" fill="#D3A4B8"/>
<text x="2006.0" y="2198.1" text-anchor="start" font-size="30" fill="#000" >A1</text>
<circle cx="1988.6" cy="2216.9" r="5.6" fill="#A65628"/>
<text x="2006.0" y="2227.4" text-anchor="start" font-size="30" fill="#000" >AS</text>
<circle cx="1988.6" cy="2246.2" r="5.6" fill="#C8C8C8"/>
<text x="2006.0" y="2256.7" text-anchor="start" font-size="30" fill="#000" >barrel</text>
<circle cx="1988.6" cy="2275.5" r="5.6" fill="#66A891"/>
<text x="2006.0" y="2286.0" text-anchor="start" font-size="30" fill="#000" >FL</text>
<circle cx="1988.6" cy="2304.8" r="5.6" fill="#80C868"/>
<text x="2006.0" y="2315.3" text-anchor="start" font-size="30" fill="#000" >HL</text>
<circle cx="1988.6" cy="2334.1" r="5.6" fill="#FFA852"/>
<text x="2006.0" y="2344.6" text-anchor="start" font-size="30" fill="#000" >LS</text>
<circle cx="1988.6" cy="2363.4" r="5.6" fill="#E41A1C"/>
<text x="2006.0" y="2373.9" text-anchor="start" font-size="30" fill="#000" >M1</text>
<circle cx="1988.6" cy="2392.7" r="5.6" fill="#FFFF33"/>
<text x="2006.0" y="2403.2" text-anchor="start" font-size="30" fill="#000" >M2</text>
<circle cx="1988.6" cy="2422.0" r="5.6" fill="#E8928A"/>
<text x="2006.0" y="2432.5" text-anchor="start" font-size="30" fill="#000" >PPC</text>
<circle cx="1988.6" cy="2451.3" r="5.6" fill="#FF7F00"/>
<text x="2006.0" y="2461.8" text-anchor="start" font-size="30" fill="#000" >RSA</text>
<circle cx="1988.6" cy="2480.6" r="5.6" fill="#4DAF4A"/>
<text x="2006.0" y="2491.1" text-anchor="start" font-size="30" fill="#000" >T</text>
<circle cx="1988.6" cy="2509.9" r="5.6" fill="#377EB8"/>
<text x="2006.0" y="2520.4" text-anchor="start" font-size="30" fill="#000" >V1</text>
<circle cx="1988.6" cy="2539.2" r="5.6" fill="#984EA3"/>
<text x="2006.0" y="2549.7" text-anchor="start" font-size="30" fill="#000" >V2L</text>
<circle cx="1988.6" cy="2568.5" r="5.6" fill="#A6CEE3"/>
<text x="2006.0" y="2579.0" text-anchor="start" font-size="30" fill="#000" >V2M</text>
</svg></body></html>
